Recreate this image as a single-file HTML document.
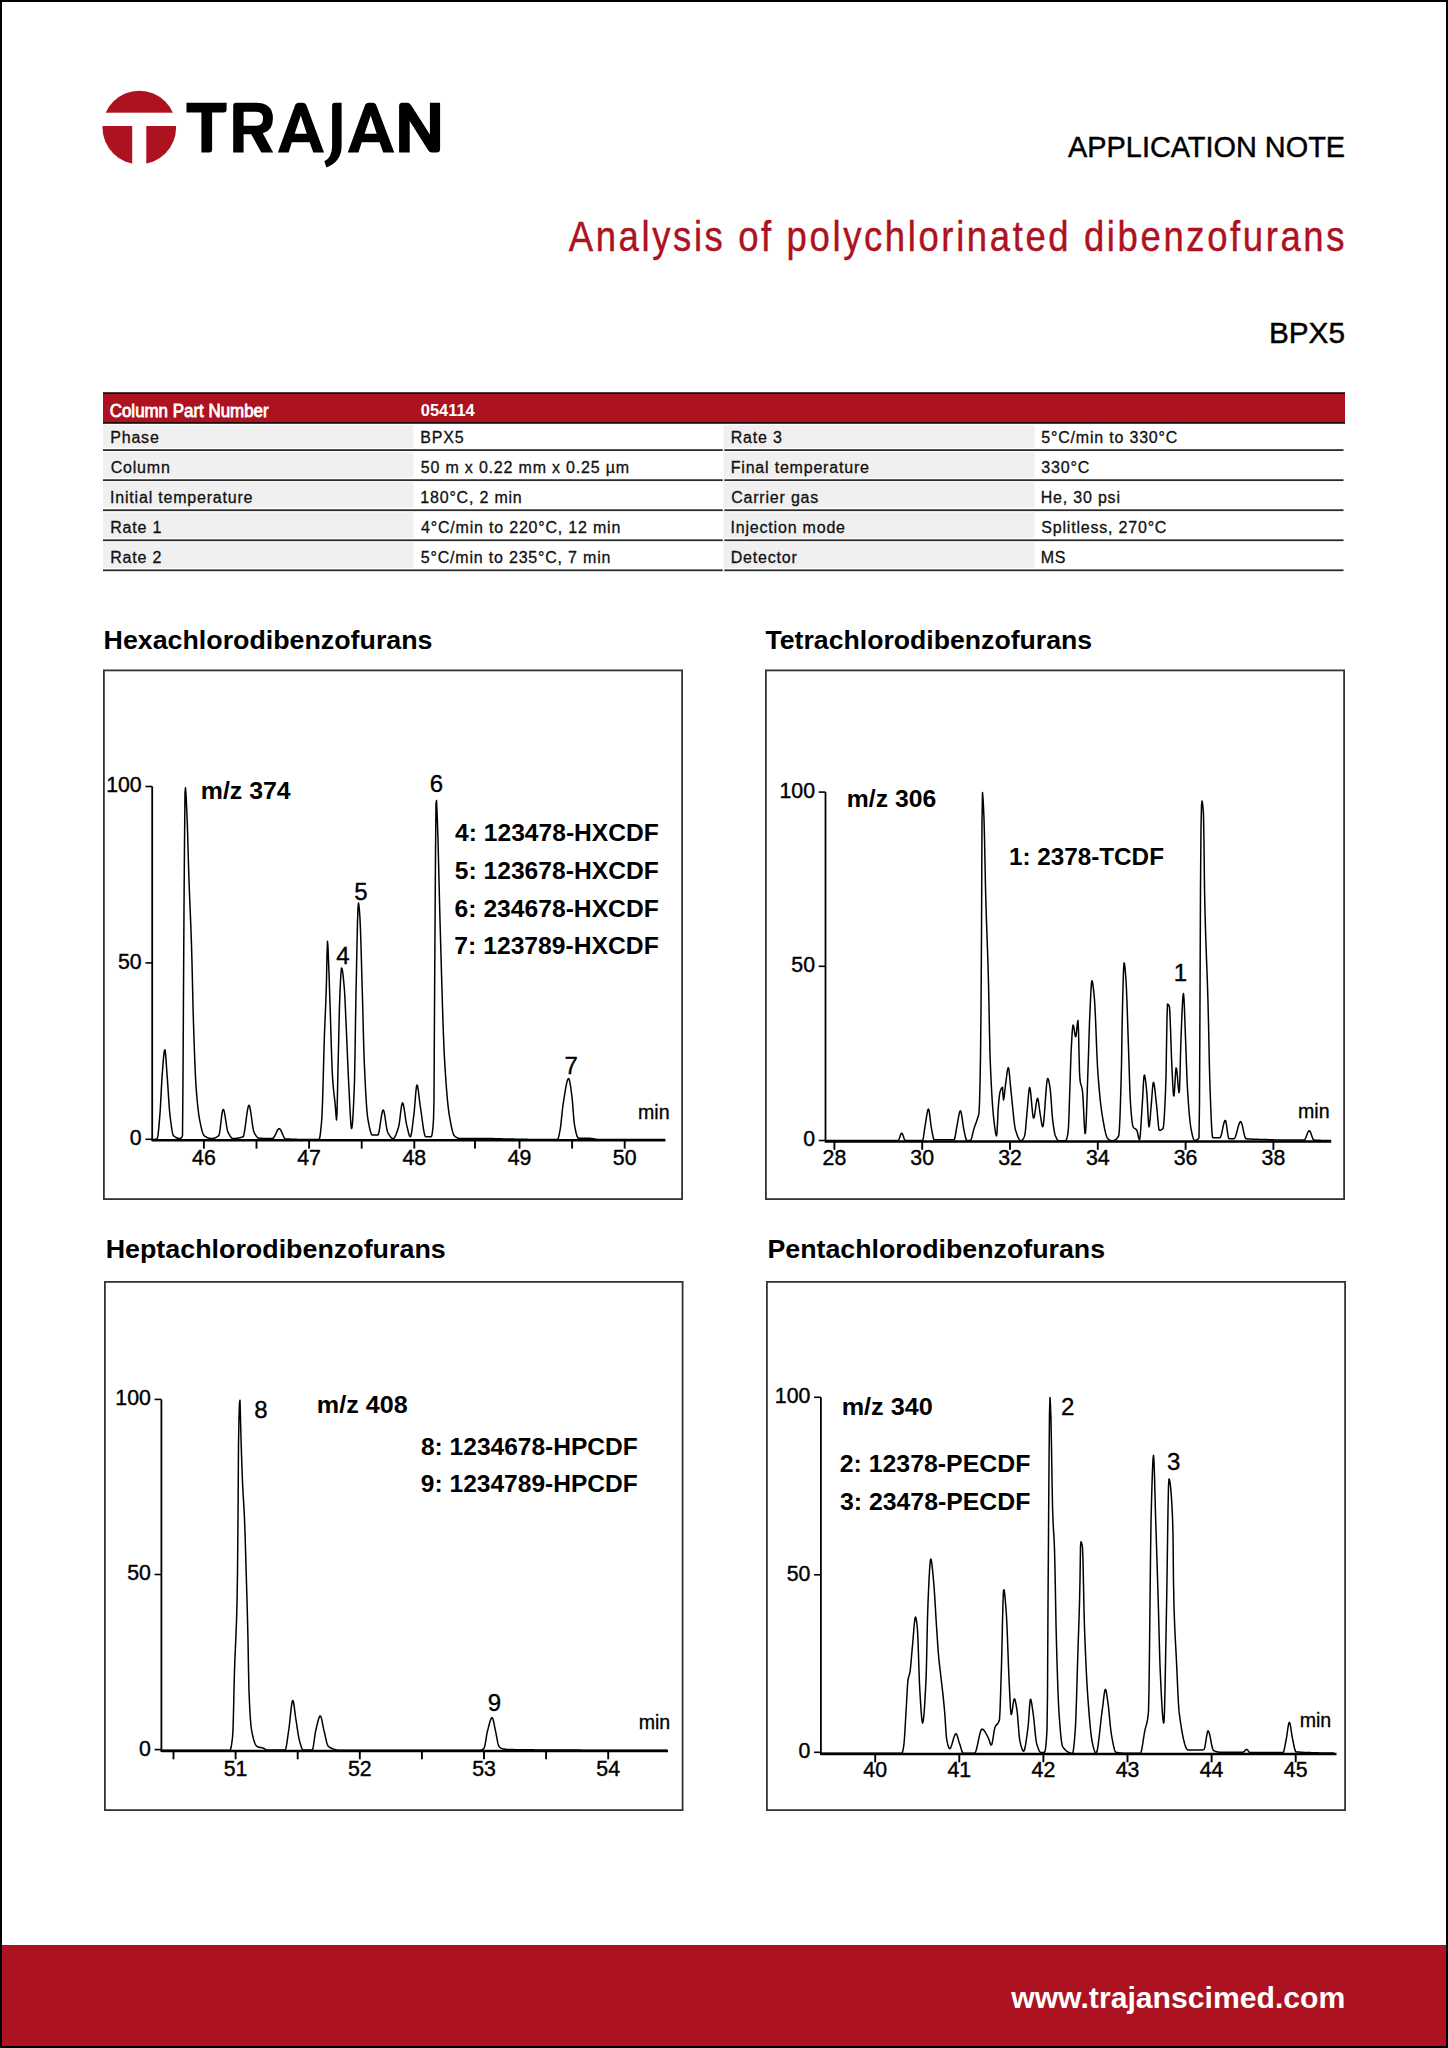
<!DOCTYPE html>
<html><head><meta charset="utf-8"><title>Trajan Application Note - BPX5</title>
<style>html,body{margin:0;padding:0;background:#fff;} svg{display:block;} text{font-family:"Liberation Sans", sans-serif;}</style>
</head><body>
<svg width="1448" height="2048" viewBox="0 0 1448 2048" font-family="'Liberation Sans', sans-serif"><rect x="0" y="0" width="1448" height="2048" fill="#fff"/>
<circle cx="139.3" cy="127.5" r="36.8" fill="#ad1220"/>
<rect x="95" y="112.7" width="90" height="13.3" fill="#fff"/>
<rect x="132.2" y="126" width="14.1" height="45" fill="#fff"/>
<path d="M186.5,102.7 H226.6 V109.5 Q226.6,112.4 223.7,112.4 H212.1 V149.6 Q212.1,152.5 209.2,152.5 H201.4 V112.4 H186.5 Z" fill="#000"/>
<path d="M236.3,102.7 H256 Q272.9,102.7 272.9,118.2 Q272.9,130.8 262.8,133.2 L273.2,152.4 H261.3 L251.2,134.2 H243.6 V152.4 H233.2 V105.9 Q233.2,102.7 236.3,102.7 Z M243.6,111.8 V125.7 H256.3 Q263,125.7 263,118.75 Q263,111.8 256.3,111.8 Z" fill="#000"/>
<path d="M277.9,152.5 L295,105.5 Q296,102.7 299,102.7 H302.5 Q305.5,102.7 306.5,105.5 L324,152.5 H313.3 L309.7,142.2 H291.8 L288.6,152.5 Z M294.7,133.8 H306.8 L300.8,115.5 Z" fill="#000"/>
<path d="M334.8,102.7 H341.6 V146 Q341.6,161.5 326.5,167.5 L324.3,161.3 Q332.1,157.5 332.1,146 V105.4 Q332.1,102.7 334.8,102.7 Z" fill="#000"/>
<path d="M347.8,152.5 L364.90000000000003,105.5 Q365.90000000000003,102.7 368.90000000000003,102.7 H372.40000000000003 Q375.40000000000003,102.7 376.40000000000003,105.5 L394.3,152.5 H383.20000000000005 L379.6,142.2 H361.70000000000005 L358.50000000000006,152.5 Z M364.6,133.8 H376.70000000000005 L370.70000000000005,115.5 Z" fill="#000"/>
<path d="M399.1,152.5 V106 Q399.1,102.7 402.5,102.7 H407 Q409.5,102.7 411,105 L429.9,134.5 V102.7 H440.1 V149 Q440.1,152.5 436.5,152.5 H432 Q429.5,152.5 428,150 L409.7,121 V152.5 Z" fill="#000"/>
<text x="1068.06" y="157.4" font-size="29.71" font-weight="normal" text-anchor="start" fill="#000" textLength="277.03" lengthAdjust="spacingAndGlyphs" stroke="#000" stroke-width="0.45">APPLICATION NOTE</text>
<text transform="translate(568.72,251.0) scale(0.85,1)" x="0" y="0" font-size="42.90" fill="#ad1220" stroke="#ad1220" stroke-width="0.45" letter-spacing="3.090">Analysis of polychlorinated dibenzofurans</text>
<text x="1268.92" y="342.7" font-size="30.29" font-weight="normal" text-anchor="start" fill="#000" textLength="76.14" lengthAdjust="spacingAndGlyphs" stroke="#000" stroke-width="0.45">BPX5</text>
<rect x="103" y="392.2" width="1242" height="31.6" fill="#1a0a0a"/>
<rect x="103" y="394" width="1242" height="28" fill="#ad1220"/>
<text x="109.75" y="416.6" font-size="17.52" font-weight="normal" text-anchor="start" fill="#fff" textLength="158.84" lengthAdjust="spacingAndGlyphs" stroke="#fff" stroke-width="0.8">Column Part Number</text>
<text x="420.74" y="416.3" font-size="17.29" font-weight="bold" text-anchor="start" fill="#fff" textLength="53.97" lengthAdjust="spacingAndGlyphs">054114</text>
<rect x="103" y="425.0" width="310.5" height="22.800000000000022" fill="#f0f0f0"/>
<rect x="723.5" y="425.0" width="311.0" height="22.800000000000022" fill="#f0f0f0"/>
<rect x="103" y="449.20000000000005" width="619.7" height="1.8" fill="#2b2b2b"/>
<rect x="724.3" y="449.20000000000005" width="619.2" height="1.8" fill="#2b2b2b"/>
<text x="110.22" y="443.0" font-size="16" font-weight="normal" text-anchor="start" fill="#111" letter-spacing="0.8" stroke="#111" stroke-width="0.3">Phase</text>
<text x="420.22" y="443.0" font-size="16" font-weight="normal" text-anchor="start" fill="#111" letter-spacing="0.8" stroke="#111" stroke-width="0.3">BPX5</text>
<text x="730.72" y="443.0" font-size="16" font-weight="normal" text-anchor="start" fill="#111" letter-spacing="0.8" stroke="#111" stroke-width="0.3">Rate 3</text>
<text x="1041.36" y="443.0" font-size="16" font-weight="normal" text-anchor="start" fill="#111" letter-spacing="0.8" stroke="#111" stroke-width="0.3">5°C/min to 330°C</text>
<rect x="103" y="452.3" width="310.5" height="25.550000000000022" fill="#f0f0f0"/>
<rect x="723.5" y="452.3" width="311.0" height="25.550000000000022" fill="#f0f0f0"/>
<rect x="103" y="479.25000000000006" width="619.7" height="1.8" fill="#2b2b2b"/>
<rect x="724.3" y="479.25000000000006" width="619.2" height="1.8" fill="#2b2b2b"/>
<text x="110.7" y="473.0" font-size="16" font-weight="normal" text-anchor="start" fill="#111" letter-spacing="0.8" stroke="#111" stroke-width="0.3">Column</text>
<text x="420.86" y="473.0" font-size="16" font-weight="normal" text-anchor="start" fill="#111" letter-spacing="0.8" stroke="#111" stroke-width="0.3">50 m x 0.22 mm x 0.25 µm</text>
<text x="730.72" y="473.0" font-size="16" font-weight="normal" text-anchor="start" fill="#111" letter-spacing="0.8" stroke="#111" stroke-width="0.3">Final temperature</text>
<text x="1041.36" y="473.0" font-size="16" font-weight="normal" text-anchor="start" fill="#111" letter-spacing="0.8" stroke="#111" stroke-width="0.3">330°C</text>
<rect x="103" y="482.35" width="310.5" height="25.550000000000022" fill="#f0f0f0"/>
<rect x="723.5" y="482.35" width="311.0" height="25.550000000000022" fill="#f0f0f0"/>
<rect x="103" y="509.30000000000007" width="619.7" height="1.8" fill="#2b2b2b"/>
<rect x="724.3" y="509.30000000000007" width="619.2" height="1.8" fill="#2b2b2b"/>
<text x="110.06" y="503.0" font-size="16" font-weight="normal" text-anchor="start" fill="#111" letter-spacing="0.8" stroke="#111" stroke-width="0.3">Initial temperature</text>
<text x="420.3" y="503.0" font-size="16" font-weight="normal" text-anchor="start" fill="#111" letter-spacing="0.8" stroke="#111" stroke-width="0.3">180°C, 2 min</text>
<text x="731.2" y="503.0" font-size="16" font-weight="normal" text-anchor="start" fill="#111" letter-spacing="0.8" stroke="#111" stroke-width="0.3">Carrier gas</text>
<text x="1040.72" y="503.0" font-size="16" font-weight="normal" text-anchor="start" fill="#111" letter-spacing="0.8" stroke="#111" stroke-width="0.3">He, 30 psi</text>
<rect x="103" y="512.4000000000001" width="310.5" height="25.54999999999991" fill="#f0f0f0"/>
<rect x="723.5" y="512.4000000000001" width="311.0" height="25.54999999999991" fill="#f0f0f0"/>
<rect x="103" y="539.35" width="619.7" height="1.8" fill="#2b2b2b"/>
<rect x="724.3" y="539.35" width="619.2" height="1.8" fill="#2b2b2b"/>
<text x="110.22" y="533.0" font-size="16" font-weight="normal" text-anchor="start" fill="#111" letter-spacing="0.8" stroke="#111" stroke-width="0.3">Rate 1</text>
<text x="421.1" y="533.0" font-size="16" font-weight="normal" text-anchor="start" fill="#111" letter-spacing="0.8" stroke="#111" stroke-width="0.3">4°C/min to 220°C, 12 min</text>
<text x="730.56" y="533.0" font-size="16" font-weight="normal" text-anchor="start" fill="#111" letter-spacing="0.8" stroke="#111" stroke-width="0.3">Injection mode</text>
<text x="1041.28" y="533.0" font-size="16" font-weight="normal" text-anchor="start" fill="#111" letter-spacing="0.8" stroke="#111" stroke-width="0.3">Splitless, 270°C</text>
<rect x="103" y="542.45" width="310.5" height="25.550000000000022" fill="#f0f0f0"/>
<rect x="723.5" y="542.45" width="311.0" height="25.550000000000022" fill="#f0f0f0"/>
<rect x="103" y="569.4000000000001" width="619.7" height="1.8" fill="#2b2b2b"/>
<rect x="724.3" y="569.4000000000001" width="619.2" height="1.8" fill="#2b2b2b"/>
<text x="110.22" y="563.0" font-size="16" font-weight="normal" text-anchor="start" fill="#111" letter-spacing="0.8" stroke="#111" stroke-width="0.3">Rate 2</text>
<text x="420.86" y="563.0" font-size="16" font-weight="normal" text-anchor="start" fill="#111" letter-spacing="0.8" stroke="#111" stroke-width="0.3">5°C/min to 235°C, 7 min</text>
<text x="730.72" y="563.0" font-size="16" font-weight="normal" text-anchor="start" fill="#111" letter-spacing="0.8" stroke="#111" stroke-width="0.3">Detector</text>
<text x="1040.72" y="563.0" font-size="16" font-weight="normal" text-anchor="start" fill="#111" letter-spacing="0.8" stroke="#111" stroke-width="0.3">MS</text>
<rect x="103.9" y="670.4" width="578.2" height="528.7" fill="none" stroke="#333" stroke-width="1.8"/>
<rect x="765.9" y="670.4" width="578.2" height="528.7" fill="none" stroke="#333" stroke-width="1.8"/>
<rect x="104.9" y="1281.9" width="577.7" height="528.2" fill="none" stroke="#333" stroke-width="1.8"/>
<rect x="766.9" y="1281.9" width="578.2" height="528.2" fill="none" stroke="#333" stroke-width="1.8"/>
<text x="103.56" y="648.9" font-size="25.7" font-weight="bold" text-anchor="start" fill="#000" textLength="328.91" lengthAdjust="spacingAndGlyphs">Hexachlorodibenzofurans</text>
<text x="765.53" y="648.8" font-size="25.7" font-weight="bold" text-anchor="start" fill="#000" textLength="326.55" lengthAdjust="spacingAndGlyphs">Tetrachlorodibenzofurans</text>
<text x="105.65" y="1258.3" font-size="25.7" font-weight="bold" text-anchor="start" fill="#000" textLength="340.09" lengthAdjust="spacingAndGlyphs">Heptachlorodibenzofurans</text>
<text x="767.46" y="1258.3" font-size="25.7" font-weight="bold" text-anchor="start" fill="#000" textLength="337.58" lengthAdjust="spacingAndGlyphs">Pentachlorodibenzofurans</text>
<line x1="152.2" y1="786.5" x2="152.2" y2="1141.3" stroke="#000" stroke-width="1.8"/>
<line x1="145.39999999999998" y1="786.5" x2="152.2" y2="786.5" stroke="#000" stroke-width="1.6"/>
<text x="141.7" y="792.4" font-size="21.3" font-weight="normal" text-anchor="end" fill="#000" stroke="#000" stroke-width="0.4">100</text>
<line x1="145.39999999999998" y1="962.9" x2="152.2" y2="962.9" stroke="#000" stroke-width="1.6"/>
<text x="141.7" y="968.8" font-size="21.3" font-weight="normal" text-anchor="end" fill="#000" stroke="#000" stroke-width="0.4">50</text>
<line x1="145.39999999999998" y1="1139.3" x2="152.2" y2="1139.3" stroke="#000" stroke-width="1.6"/>
<text x="141.7" y="1145.2" font-size="21.3" font-weight="normal" text-anchor="end" fill="#000" stroke="#000" stroke-width="0.4">0</text>
<line x1="152.2" y1="1140.3" x2="665.4" y2="1140.3" stroke="#000" stroke-width="2.4"/>
<line x1="203.9" y1="1140.3" x2="203.9" y2="1148.6" stroke="#000" stroke-width="1.9"/>
<text x="203.9" y="1164.7" font-size="21.3" font-weight="normal" text-anchor="middle" fill="#000" stroke="#000" stroke-width="0.4">46</text>
<line x1="256.5" y1="1140.3" x2="256.5" y2="1148.6" stroke="#000" stroke-width="1.9"/>
<line x1="309.1" y1="1140.3" x2="309.1" y2="1148.6" stroke="#000" stroke-width="1.9"/>
<text x="309.1" y="1164.7" font-size="21.3" font-weight="normal" text-anchor="middle" fill="#000" stroke="#000" stroke-width="0.4">47</text>
<line x1="361.70000000000005" y1="1140.3" x2="361.70000000000005" y2="1148.6" stroke="#000" stroke-width="1.9"/>
<line x1="414.3" y1="1140.3" x2="414.3" y2="1148.6" stroke="#000" stroke-width="1.9"/>
<text x="414.3" y="1164.7" font-size="21.3" font-weight="normal" text-anchor="middle" fill="#000" stroke="#000" stroke-width="0.4">48</text>
<line x1="475.0" y1="1140.3" x2="475.0" y2="1148.6" stroke="#000" stroke-width="1.9"/>
<line x1="519.5" y1="1140.3" x2="519.5" y2="1148.6" stroke="#000" stroke-width="1.9"/>
<text x="519.5" y="1164.7" font-size="21.3" font-weight="normal" text-anchor="middle" fill="#000" stroke="#000" stroke-width="0.4">49</text>
<line x1="572.1" y1="1140.3" x2="572.1" y2="1148.6" stroke="#000" stroke-width="1.9"/>
<line x1="624.7" y1="1140.3" x2="624.7" y2="1148.6" stroke="#000" stroke-width="1.9"/>
<text x="624.7" y="1164.7" font-size="21.3" font-weight="normal" text-anchor="middle" fill="#000" stroke="#000" stroke-width="0.4">50</text>
<polyline fill="none" stroke="#000" stroke-width="1.5" stroke-linejoin="round" points="153.0,1139.6 153.5,1139.6 154.0,1139.5 154.5,1139.5 155.0,1139.4 155.5,1139.2 156.0,1139.1 156.5,1138.9 157.0,1138.6 157.5,1137.9 158.0,1135.2 158.5,1130.8 159.0,1125.4 159.5,1119.4 160.0,1113.3 160.5,1105.5 161.0,1096.0 161.5,1086.2 162.0,1077.4 162.5,1070.7 163.0,1064.3 163.5,1058.1 164.0,1053.1 164.5,1050.1 165.0,1049.9 165.5,1053.3 166.0,1059.4 166.5,1066.8 167.0,1074.1 167.5,1080.8 168.0,1088.3 168.5,1096.2 169.0,1103.9 169.5,1110.5 170.0,1115.4 170.5,1119.5 171.0,1123.5 171.5,1127.2 172.0,1130.4 172.5,1132.9 173.0,1134.8 173.5,1135.7 174.0,1136.1 174.5,1136.5 175.0,1136.9 175.5,1137.2 176.0,1137.5 176.5,1137.8 177.0,1138.0 177.5,1138.2 178.0,1138.3 178.5,1138.4 179.0,1138.5 179.5,1138.5 180.0,1138.5 180.5,1138.4 181.0,1138.1 181.5,1137.6 182.0,1136.8 182.5,1135.7 183.0,1078.3 183.5,990.7 184.0,908.2 184.5,843.1 185.0,792.7 185.5,787.8 186.0,794.6 186.5,804.9 187.0,816.2 187.5,829.8 188.0,846.9 188.5,864.8 189.0,880.5 189.5,893.7 190.0,905.9 190.5,917.9 191.0,930.7 191.5,945.1 192.0,963.0 192.5,984.6 193.0,1006.2 193.5,1023.7 194.0,1038.9 194.5,1053.2 195.0,1066.1 195.5,1077.2 196.0,1085.9 196.5,1092.6 197.0,1098.5 197.5,1103.8 198.0,1108.5 198.5,1112.6 199.0,1116.1 199.5,1119.1 200.0,1121.7 200.5,1124.1 201.0,1126.5 201.5,1128.6 202.0,1130.6 202.5,1132.3 203.0,1133.7 203.5,1134.8 204.0,1135.5 204.5,1135.9 205.0,1136.3 205.5,1136.6 206.0,1136.9 206.5,1137.2 207.0,1137.5 207.5,1137.7 208.0,1137.9 208.5,1138.1 209.0,1138.2 209.5,1138.3 210.0,1138.4 210.5,1138.5 211.0,1138.5 211.5,1138.5 212.0,1138.5 212.5,1138.5 213.0,1138.4 213.5,1138.3 214.0,1138.2 214.5,1138.0 215.0,1137.9 215.5,1137.7 216.0,1137.4 216.5,1137.2 217.0,1136.9 217.5,1136.6 218.0,1136.2 218.5,1135.9 219.0,1135.2 219.5,1133.1 220.0,1129.8 220.5,1125.9 221.0,1121.6 221.5,1117.4 222.0,1113.7 222.5,1110.9 223.0,1109.4 223.5,1109.5 224.0,1110.7 224.5,1112.9 225.0,1115.7 225.5,1118.9 226.0,1122.2 226.5,1125.5 227.0,1128.4 227.5,1130.7 228.0,1132.2 228.5,1133.2 229.0,1134.1 229.5,1135.0 230.0,1135.8 230.5,1136.6 231.0,1137.2 231.5,1137.7 232.0,1138.2 232.5,1138.4 233.0,1138.5 233.5,1138.5 234.0,1138.5 234.5,1138.5 235.0,1138.5 235.5,1138.4 236.0,1138.4 236.5,1138.3 237.0,1138.3 237.5,1138.2 238.0,1138.1 238.5,1138.0 239.0,1137.9 239.5,1137.8 240.0,1137.7 240.5,1137.6 241.0,1137.4 241.5,1137.3 242.0,1137.1 242.5,1137.0 243.0,1136.8 243.5,1136.0 244.0,1134.2 244.5,1131.5 245.0,1128.3 245.5,1124.6 246.0,1120.8 246.5,1116.9 247.0,1113.3 247.5,1110.2 248.0,1107.6 248.5,1106.0 249.0,1105.3 249.5,1106.0 250.0,1107.8 250.5,1110.5 251.0,1113.9 251.5,1117.5 252.0,1121.3 252.5,1124.9 253.0,1128.1 253.5,1130.6 254.0,1132.2 254.5,1133.1 255.0,1134.1 255.5,1134.9 256.0,1135.7 256.5,1136.4 257.0,1137.0 257.5,1137.5 258.0,1137.8 258.5,1138.1 259.0,1138.2 259.5,1138.2 260.0,1138.2 260.5,1138.3 261.0,1138.3 261.5,1138.3 262.0,1138.3 262.5,1138.4 263.0,1138.4 263.5,1138.4 264.0,1138.4 264.5,1138.4 265.0,1138.4 265.5,1138.5 266.0,1138.5 266.5,1138.5 267.0,1138.5 267.5,1138.5 268.0,1138.5 268.5,1138.5 269.0,1138.5 269.5,1138.5 270.0,1138.5 270.5,1138.5 271.0,1138.5 271.5,1138.5 272.0,1138.5 272.5,1138.5 273.0,1138.4 273.5,1137.9 274.0,1137.3 274.5,1136.4 275.0,1135.4 275.5,1134.4 276.0,1133.3 276.5,1132.2 277.0,1131.2 277.5,1130.2 278.0,1129.5 278.5,1129.0 279.0,1128.7 279.5,1128.7 280.0,1129.1 280.5,1129.8 281.0,1130.7 281.5,1131.7 282.0,1132.9 282.5,1134.1 283.0,1135.3 283.5,1136.4 284.0,1137.4 284.5,1138.2 285.0,1138.7 285.5,1138.9 286.0,1138.9 286.5,1138.9 287.0,1139.0 287.5,1139.0 288.0,1139.0 288.5,1139.0 289.0,1139.1 289.5,1139.1 290.0,1139.1 290.5,1139.1 291.0,1139.2 291.5,1139.2 292.0,1139.2 292.5,1139.2 293.0,1139.2 293.5,1139.2 294.0,1139.3 294.5,1139.3 295.0,1139.3 295.5,1139.3 296.0,1139.3 296.5,1139.3 297.0,1139.4 297.5,1139.4 298.0,1139.4 298.5,1139.4 299.0,1139.4 299.5,1139.4 300.0,1139.4 300.5,1139.4 301.0,1139.4 301.5,1139.5 302.0,1139.5 302.5,1139.5 303.0,1139.5 303.5,1139.5 304.0,1139.5 304.5,1139.5 305.0,1139.5 305.5,1139.5 306.0,1139.5 306.5,1139.5 307.0,1139.5 307.5,1139.5 308.0,1139.6 308.5,1139.6 309.0,1139.6 309.5,1139.6 310.0,1139.6 310.5,1139.6 311.0,1139.6 311.5,1139.6 312.0,1139.6 312.5,1139.6 313.0,1139.6 313.5,1139.6 314.0,1139.6 314.5,1139.6 315.0,1139.6 315.5,1139.6 316.0,1139.6 316.5,1139.6 317.0,1139.6 317.5,1139.6 318.0,1139.6 318.5,1139.6 319.0,1139.6 319.5,1138.7 320.0,1136.3 320.5,1132.6 321.0,1127.9 321.5,1122.5 322.0,1115.4 322.5,1102.7 323.0,1086.0 323.5,1067.4 324.0,1049.1 324.5,1033.3 325.0,1020.7 325.5,1009.2 326.0,996.8 326.5,980.3 327.0,955.1 327.5,941.2 328.0,947.6 328.5,960.3 329.0,973.3 329.5,988.6 330.0,1003.8 330.5,1019.6 331.0,1036.3 331.5,1052.3 332.0,1066.3 332.5,1076.9 333.0,1083.9 333.5,1089.4 334.0,1094.0 334.5,1098.2 335.0,1102.7 335.5,1108.1 336.0,1115.4 336.5,1120.0 337.0,1113.2 337.5,1092.0 338.0,1069.3 338.5,1048.1 339.0,1025.3 339.5,1005.5 340.0,992.3 340.5,981.2 341.0,972.4 341.5,968.1 342.0,968.6 342.5,971.0 343.0,974.7 343.5,979.4 344.0,984.8 344.5,990.7 345.0,999.6 345.5,1010.7 346.0,1022.0 346.5,1033.0 347.0,1044.7 347.5,1056.8 348.0,1068.5 348.5,1079.5 349.0,1089.2 349.5,1099.2 350.0,1109.4 350.5,1118.5 351.0,1125.3 351.5,1128.6 352.0,1127.5 352.5,1122.9 353.0,1115.6 353.5,1105.9 354.0,1094.7 354.5,1080.9 355.0,1054.9 355.5,1022.4 356.0,992.9 356.5,969.1 357.0,944.3 357.5,922.3 358.0,907.3 358.5,903.1 359.0,906.0 359.5,911.5 360.0,918.7 360.5,930.5 361.0,945.9 361.5,963.4 362.0,981.4 362.5,998.6 363.0,1017.8 363.5,1038.0 364.0,1055.2 364.5,1067.4 365.0,1078.2 365.5,1088.2 366.0,1097.2 366.5,1105.0 367.0,1111.4 367.5,1116.3 368.0,1119.6 368.5,1122.5 369.0,1125.2 369.5,1127.6 370.0,1129.8 370.5,1131.6 371.0,1133.1 371.5,1134.2 372.0,1134.8 372.5,1135.0 373.0,1135.0 373.5,1135.0 374.0,1135.0 374.5,1135.0 375.0,1135.0 375.5,1135.0 376.0,1135.0 376.5,1135.0 377.0,1135.0 377.5,1135.0 378.0,1134.9 378.5,1133.9 379.0,1131.8 379.5,1129.1 380.0,1125.9 380.5,1122.5 381.0,1119.0 381.5,1115.8 382.0,1113.1 382.5,1111.1 383.0,1110.0 383.5,1110.2 384.0,1111.6 384.5,1113.9 385.0,1116.9 385.5,1120.3 386.0,1123.8 386.5,1127.0 387.0,1129.8 387.5,1131.7 388.0,1132.8 388.5,1133.7 389.0,1134.6 389.5,1135.4 390.0,1136.1 390.5,1136.8 391.0,1137.4 391.5,1137.8 392.0,1138.2 392.5,1138.4 393.0,1138.5 393.5,1138.5 394.0,1138.1 394.5,1137.5 395.0,1136.7 395.5,1135.7 396.0,1134.6 396.5,1133.3 397.0,1131.9 397.5,1130.4 398.0,1128.8 398.5,1127.2 399.0,1125.1 399.5,1121.9 400.0,1118.0 400.5,1113.7 401.0,1109.6 401.5,1106.2 402.0,1103.8 402.5,1102.9 403.0,1103.5 403.5,1105.3 404.0,1108.0 404.5,1111.2 405.0,1114.7 405.5,1118.3 406.0,1121.5 406.5,1124.3 407.0,1126.4 407.5,1128.5 408.0,1130.7 408.5,1132.7 409.0,1134.5 409.5,1135.9 410.0,1136.6 410.5,1136.7 411.0,1135.4 411.5,1133.0 412.0,1129.8 412.5,1126.0 413.0,1121.8 413.5,1117.7 414.0,1113.7 414.5,1108.7 415.0,1102.5 415.5,1096.2 416.0,1090.5 416.5,1086.4 417.0,1084.9 417.5,1085.8 418.0,1088.4 418.5,1092.0 419.0,1096.3 419.5,1100.5 420.0,1104.4 420.5,1107.6 421.0,1111.0 421.5,1114.7 422.0,1118.5 422.5,1122.2 423.0,1125.8 423.5,1129.1 424.0,1131.9 424.5,1134.2 425.0,1135.9 425.5,1136.7 426.0,1136.8 426.5,1136.8 427.0,1136.8 427.5,1136.8 428.0,1136.8 428.5,1136.8 429.0,1136.8 429.5,1136.8 430.0,1136.8 430.5,1136.8 431.0,1136.8 431.5,1136.4 432.0,1134.7 432.5,1131.5 433.0,1126.5 433.5,1119.7 434.0,1099.4 434.5,1008.7 435.0,931.0 435.5,854.3 436.0,803.6 436.5,800.4 437.0,811.2 437.5,824.4 438.0,840.3 438.5,859.7 439.0,880.8 439.5,901.8 440.0,921.1 440.5,938.3 441.0,955.8 441.5,973.4 442.0,990.5 442.5,1007.0 443.0,1022.4 443.5,1036.4 444.0,1048.6 444.5,1058.8 445.0,1067.1 445.5,1074.9 446.0,1082.2 446.5,1088.9 447.0,1095.0 447.5,1100.5 448.0,1105.4 448.5,1109.7 449.0,1113.3 449.5,1116.3 450.0,1119.2 450.5,1122.0 451.0,1124.6 451.5,1127.0 452.0,1129.2 452.5,1131.2 453.0,1132.9 453.5,1134.3 454.0,1135.3 454.5,1136.0 455.0,1136.4 455.5,1136.8 456.0,1137.1 456.5,1137.4 457.0,1137.7 457.5,1138.0 458.0,1138.2 458.5,1138.3 459.0,1138.4 459.5,1138.5 460.0,1138.5 460.5,1138.5 461.0,1138.5 461.5,1138.5 462.0,1138.5 462.5,1138.5 463.0,1138.5 463.5,1138.5 464.0,1138.5 464.5,1138.5 465.0,1138.5 465.5,1138.5 466.0,1138.5 466.5,1138.5 467.0,1138.5 467.5,1138.5 468.0,1138.5 468.5,1138.5 469.0,1138.5 469.5,1138.5 470.0,1138.5 470.5,1138.5 471.0,1138.5 471.5,1138.5 472.0,1138.5 472.5,1138.5 473.0,1138.5 473.5,1138.5 474.0,1138.5 474.5,1138.5 475.0,1138.5 475.5,1138.5 476.0,1138.5 476.5,1138.5 477.0,1138.5 477.5,1138.5 478.0,1138.5 478.5,1138.5 479.0,1138.5 479.5,1138.5 480.0,1138.5 480.5,1138.5 481.0,1138.5 481.5,1138.5 482.0,1138.5 482.5,1138.5 483.0,1138.5 483.5,1138.5 484.0,1138.5 484.5,1138.5 485.0,1138.5 485.5,1138.5 486.0,1138.5 486.5,1138.6 487.0,1138.6 487.5,1138.6 488.0,1138.6 488.5,1138.6 489.0,1138.6 489.5,1138.6 490.0,1138.6 490.5,1138.6 491.0,1138.6 491.5,1138.6 492.0,1138.6 492.5,1138.6 493.0,1138.6 493.5,1138.6 494.0,1138.7 494.5,1138.7 495.0,1138.7 495.5,1138.7 496.0,1138.7 496.5,1138.7 497.0,1138.7 497.5,1138.7 498.0,1138.7 498.5,1138.8 499.0,1138.8 499.5,1138.8 500.0,1138.8 500.5,1138.8 501.0,1138.8 501.5,1138.8 502.0,1138.8 502.5,1138.9 503.0,1138.9 503.5,1138.9 504.0,1138.9 504.5,1138.9 505.0,1138.9 505.5,1138.9 506.0,1138.9 506.5,1139.0 507.0,1139.0 507.5,1139.0 508.0,1139.0 508.5,1139.0 509.0,1139.0 509.5,1139.0 510.0,1139.0 510.5,1139.1 511.0,1139.1 511.5,1139.1 512.0,1139.1 512.5,1139.1 513.0,1139.1 513.5,1139.1 514.0,1139.1 514.5,1139.2 515.0,1139.2 515.5,1139.2 516.0,1139.2 516.5,1139.2 517.0,1139.2 517.5,1139.2 518.0,1139.2 518.5,1139.2 519.0,1139.2 519.5,1139.2 520.0,1139.2 520.5,1139.3 521.0,1139.3 521.5,1139.3 522.0,1139.3 522.5,1139.3 523.0,1139.3 523.5,1139.3 524.0,1139.3 524.5,1139.3 525.0,1139.3 525.5,1139.3 526.0,1139.3 526.5,1139.3 527.0,1139.3 527.5,1139.3 528.0,1139.4 528.5,1139.4 529.0,1139.4 529.5,1139.4 530.0,1139.4 530.5,1139.4 531.0,1139.4 531.5,1139.4 532.0,1139.4 532.5,1139.4 533.0,1139.4 533.5,1139.4 534.0,1139.4 534.5,1139.4 535.0,1139.4 535.5,1139.4 536.0,1139.5 536.5,1139.5 537.0,1139.5 537.5,1139.5 538.0,1139.5 538.5,1139.5 539.0,1139.5 539.5,1139.5 540.0,1139.5 540.5,1139.5 541.0,1139.5 541.5,1139.5 542.0,1139.5 542.5,1139.5 543.0,1139.5 543.5,1139.5 544.0,1139.5 544.5,1139.5 545.0,1139.5 545.5,1139.5 546.0,1139.6 546.5,1139.6 547.0,1139.6 547.5,1139.6 548.0,1139.6 548.5,1139.6 549.0,1139.6 549.5,1139.6 550.0,1139.6 550.5,1139.6 551.0,1139.6 551.5,1139.6 552.0,1139.6 552.5,1139.6 553.0,1139.6 553.5,1139.6 554.0,1139.6 554.5,1139.6 555.0,1139.6 555.5,1139.6 556.0,1139.6 556.5,1139.6 557.0,1139.6 557.5,1139.6 558.0,1138.9 558.5,1137.4 559.0,1135.3 559.5,1132.9 560.0,1130.4 560.5,1127.3 561.0,1123.3 561.5,1118.6 562.0,1113.7 562.5,1109.0 563.0,1104.9 563.5,1101.7 564.0,1098.5 564.5,1095.3 565.0,1092.2 565.5,1089.2 566.0,1086.4 566.5,1083.9 567.0,1081.8 567.5,1080.1 568.0,1079.0 568.5,1078.5 569.0,1078.9 569.5,1080.4 570.0,1082.8 570.5,1085.9 571.0,1089.5 571.5,1093.2 572.0,1097.0 572.5,1102.1 573.0,1108.6 573.5,1115.3 574.0,1121.1 574.5,1125.1 575.0,1127.7 575.5,1130.2 576.0,1132.5 576.5,1134.4 577.0,1136.1 577.5,1137.3 578.0,1138.0 578.5,1138.2 579.0,1138.2 579.5,1138.2 580.0,1138.2 580.5,1138.2 581.0,1138.2 581.5,1138.2 582.0,1138.2 582.5,1138.2 583.0,1138.2 583.5,1138.2 584.0,1138.2 584.5,1138.2 585.0,1138.2 585.5,1138.2 586.0,1138.2 586.5,1138.2 587.0,1138.2 587.5,1138.2 588.0,1138.2 588.5,1138.2 589.0,1138.2 589.5,1138.3 590.0,1138.3 590.5,1138.4 591.0,1138.4 591.5,1138.5 592.0,1138.6 592.5,1138.7 593.0,1138.8 593.5,1138.8 594.0,1138.9 594.5,1139.0 595.0,1139.1 595.5,1139.2 596.0,1139.3 596.5,1139.3 597.0,1139.4 597.5,1139.5 598.0,1139.5 598.5,1139.5 599.0,1139.6 599.5,1139.6 600.0,1139.6 600.5,1139.6 601.0,1139.6 601.5,1139.6 602.0,1139.6 602.5,1139.6 603.0,1139.6 603.5,1139.6 604.0,1139.6 604.5,1139.6 605.0,1139.6 605.5,1139.6 606.0,1139.6 606.5,1139.6 607.0,1139.6 607.5,1139.6 608.0,1139.6 608.5,1139.6 609.0,1139.6 609.5,1139.6 610.0,1139.6 610.5,1139.6 611.0,1139.6 611.5,1139.6 612.0,1139.6 612.5,1139.6 613.0,1139.6 613.5,1139.6 614.0,1139.6 614.5,1139.6 615.0,1139.6 615.5,1139.6 616.0,1139.6 616.5,1139.6 617.0,1139.6 617.5,1139.6 618.0,1139.6 618.5,1139.6 619.0,1139.6 619.5,1139.6 620.0,1139.6 620.5,1139.6 621.0,1139.6 621.5,1139.6 622.0,1139.6 622.5,1139.6 623.0,1139.6 623.5,1139.6 624.0,1139.6 624.5,1139.6 625.0,1139.6 625.5,1139.6 626.0,1139.6 626.5,1139.6 627.0,1139.6 627.5,1139.6 628.0,1139.6 628.5,1139.6 629.0,1139.6 629.5,1139.6 630.0,1139.6 630.5,1139.6 631.0,1139.6 631.5,1139.6 632.0,1139.6 632.5,1139.6 633.0,1139.6 633.5,1139.6 634.0,1139.6 634.5,1139.6 635.0,1139.6 635.5,1139.6 636.0,1139.6 636.5,1139.6 637.0,1139.6 637.5,1139.6 638.0,1139.6 638.5,1139.6 639.0,1139.6 639.5,1139.6 640.0,1139.6 640.5,1139.6 641.0,1139.6 641.5,1139.6 642.0,1139.6 642.5,1139.6 643.0,1139.6 643.5,1139.6 644.0,1139.6 644.5,1139.6 645.0,1139.6 645.5,1139.6 646.0,1139.6 646.5,1139.6 647.0,1139.6 647.5,1139.6 648.0,1139.6 648.5,1139.6 649.0,1139.6 649.5,1139.6 650.0,1139.6 650.5,1139.6 651.0,1139.6 651.5,1139.6 652.0,1139.6 652.5,1139.6 653.0,1139.6 653.5,1139.6 654.0,1139.6 654.5,1139.6 655.0,1139.6 655.5,1139.6 656.0,1139.6 656.5,1139.6 657.0,1139.6 657.5,1139.6 658.0,1139.6 658.5,1139.6 659.0,1139.6 659.5,1139.6 660.0,1139.6 660.5,1139.6 661.0,1139.6 661.5,1139.6 662.0,1139.6 662.5,1139.6 663.0,1139.6 663.5,1139.6 664.0,1139.6 664.5,1139.6 665.0,1139.6"/>
<text x="200.78" y="799.4" font-size="23.8" font-weight="bold" text-anchor="start" fill="#000" textLength="89.92" lengthAdjust="spacingAndGlyphs">m/z 374</text>
<text x="455.13" y="841.4" font-size="24.3" font-weight="bold" text-anchor="start" fill="#000" textLength="203.67" lengthAdjust="spacingAndGlyphs">4: 123478-HXCDF</text>
<text x="454.76" y="879.0" font-size="24.3" font-weight="bold" text-anchor="start" fill="#000" textLength="204.04" lengthAdjust="spacingAndGlyphs">5: 123678-HXCDF</text>
<text x="454.64" y="916.6" font-size="24.3" font-weight="bold" text-anchor="start" fill="#000" textLength="204.16" lengthAdjust="spacingAndGlyphs">6: 234678-HXCDF</text>
<text x="454.39" y="954.2" font-size="24.3" font-weight="bold" text-anchor="start" fill="#000" textLength="204.41" lengthAdjust="spacingAndGlyphs">7: 123789-HXCDF</text>
<text x="638" y="1119.1" font-size="19.6" font-weight="normal" text-anchor="start" fill="#000" stroke="#000" stroke-width="0.3">min</text>
<text x="343" y="964" font-size="24" font-weight="normal" text-anchor="middle" fill="#000" stroke="#000" stroke-width="0.35">4</text>
<text x="361" y="899.6" font-size="24" font-weight="normal" text-anchor="middle" fill="#000" stroke="#000" stroke-width="0.35">5</text>
<text x="436.5" y="792.3" font-size="24" font-weight="normal" text-anchor="middle" fill="#000" stroke="#000" stroke-width="0.35">6</text>
<text x="571.2" y="1073.6" font-size="24" font-weight="normal" text-anchor="middle" fill="#000" stroke="#000" stroke-width="0.35">7</text>
<line x1="825.5" y1="792.1" x2="825.5" y2="1142.5" stroke="#000" stroke-width="1.8"/>
<line x1="818.7" y1="792.1" x2="825.5" y2="792.1" stroke="#000" stroke-width="1.6"/>
<text x="815.0" y="798.0" font-size="21.3" font-weight="normal" text-anchor="end" fill="#000" stroke="#000" stroke-width="0.4">100</text>
<line x1="818.7" y1="966.3" x2="825.5" y2="966.3" stroke="#000" stroke-width="1.6"/>
<text x="815.0" y="972.2" font-size="21.3" font-weight="normal" text-anchor="end" fill="#000" stroke="#000" stroke-width="0.4">50</text>
<line x1="818.7" y1="1140.5" x2="825.5" y2="1140.5" stroke="#000" stroke-width="1.6"/>
<text x="815.0" y="1146.4" font-size="21.3" font-weight="normal" text-anchor="end" fill="#000" stroke="#000" stroke-width="0.4">0</text>
<line x1="825.5" y1="1141.5" x2="1331.2" y2="1141.5" stroke="#000" stroke-width="2.4"/>
<line x1="834.4" y1="1141.5" x2="834.4" y2="1149.8" stroke="#000" stroke-width="1.9"/>
<text x="834.4" y="1164.8" font-size="21.3" font-weight="normal" text-anchor="middle" fill="#000" stroke="#000" stroke-width="0.4">28</text>
<line x1="922.1999999999999" y1="1141.5" x2="922.1999999999999" y2="1149.8" stroke="#000" stroke-width="1.9"/>
<text x="922.2" y="1164.8" font-size="21.3" font-weight="normal" text-anchor="middle" fill="#000" stroke="#000" stroke-width="0.4">30</text>
<line x1="1010.0" y1="1141.5" x2="1010.0" y2="1149.8" stroke="#000" stroke-width="1.9"/>
<text x="1010.0" y="1164.8" font-size="21.3" font-weight="normal" text-anchor="middle" fill="#000" stroke="#000" stroke-width="0.4">32</text>
<line x1="1097.8" y1="1141.5" x2="1097.8" y2="1149.8" stroke="#000" stroke-width="1.9"/>
<text x="1097.8" y="1164.8" font-size="21.3" font-weight="normal" text-anchor="middle" fill="#000" stroke="#000" stroke-width="0.4">34</text>
<line x1="1185.6" y1="1141.5" x2="1185.6" y2="1149.8" stroke="#000" stroke-width="1.9"/>
<text x="1185.6" y="1164.8" font-size="21.3" font-weight="normal" text-anchor="middle" fill="#000" stroke="#000" stroke-width="0.4">36</text>
<line x1="1273.4" y1="1141.5" x2="1273.4" y2="1149.8" stroke="#000" stroke-width="1.9"/>
<text x="1273.4" y="1164.8" font-size="21.3" font-weight="normal" text-anchor="middle" fill="#000" stroke="#000" stroke-width="0.4">38</text>
<polyline fill="none" stroke="#000" stroke-width="1.5" stroke-linejoin="round" points="826.0,1140.5 826.5,1140.5 827.0,1140.5 827.5,1140.5 828.0,1140.5 828.5,1140.5 829.0,1140.5 829.5,1140.5 830.0,1140.5 830.5,1140.5 831.0,1140.5 831.5,1140.5 832.0,1140.5 832.5,1140.5 833.0,1140.5 833.5,1140.5 834.0,1140.5 834.5,1140.5 835.0,1140.5 835.5,1140.5 836.0,1140.5 836.5,1140.5 837.0,1140.5 837.5,1140.5 838.0,1140.5 838.5,1140.5 839.0,1140.5 839.5,1140.5 840.0,1140.5 840.5,1140.5 841.0,1140.5 841.5,1140.5 842.0,1140.5 842.5,1140.5 843.0,1140.5 843.5,1140.5 844.0,1140.5 844.5,1140.5 845.0,1140.5 845.5,1140.5 846.0,1140.5 846.5,1140.5 847.0,1140.5 847.5,1140.5 848.0,1140.5 848.5,1140.5 849.0,1140.5 849.5,1140.5 850.0,1140.5 850.5,1140.5 851.0,1140.5 851.5,1140.5 852.0,1140.5 852.5,1140.5 853.0,1140.5 853.5,1140.5 854.0,1140.5 854.5,1140.5 855.0,1140.5 855.5,1140.5 856.0,1140.5 856.5,1140.5 857.0,1140.5 857.5,1140.5 858.0,1140.5 858.5,1140.5 859.0,1140.5 859.5,1140.5 860.0,1140.5 860.5,1140.5 861.0,1140.5 861.5,1140.5 862.0,1140.5 862.5,1140.5 863.0,1140.5 863.5,1140.5 864.0,1140.5 864.5,1140.5 865.0,1140.5 865.5,1140.5 866.0,1140.5 866.5,1140.5 867.0,1140.5 867.5,1140.5 868.0,1140.5 868.5,1140.5 869.0,1140.5 869.5,1140.5 870.0,1140.5 870.5,1140.5 871.0,1140.5 871.5,1140.5 872.0,1140.5 872.5,1140.5 873.0,1140.5 873.5,1140.5 874.0,1140.5 874.5,1140.5 875.0,1140.5 875.5,1140.5 876.0,1140.5 876.5,1140.5 877.0,1140.5 877.5,1140.5 878.0,1140.5 878.5,1140.5 879.0,1140.5 879.5,1140.5 880.0,1140.5 880.5,1140.5 881.0,1140.5 881.5,1140.5 882.0,1140.5 882.5,1140.5 883.0,1140.5 883.5,1140.5 884.0,1140.5 884.5,1140.5 885.0,1140.5 885.5,1140.5 886.0,1140.5 886.5,1140.5 887.0,1140.5 887.5,1140.5 888.0,1140.5 888.5,1140.5 889.0,1140.5 889.5,1140.5 890.0,1140.5 890.5,1140.5 891.0,1140.5 891.5,1140.5 892.0,1140.5 892.5,1140.5 893.0,1140.5 893.5,1140.5 894.0,1140.5 894.5,1140.5 895.0,1140.5 895.5,1140.5 896.0,1140.5 896.5,1140.5 897.0,1140.5 897.5,1140.5 898.0,1140.5 898.5,1140.2 899.0,1139.3 899.5,1138.0 900.0,1136.5 900.5,1135.0 901.0,1133.9 901.5,1133.2 902.0,1133.3 902.5,1134.1 903.0,1135.3 903.5,1136.8 904.0,1138.3 904.5,1139.5 905.0,1140.3 905.5,1140.5 906.0,1140.5 906.5,1140.5 907.0,1140.5 907.5,1140.5 908.0,1140.5 908.5,1140.5 909.0,1140.5 909.5,1140.5 910.0,1140.5 910.5,1140.5 911.0,1140.5 911.5,1140.5 912.0,1140.5 912.5,1140.5 913.0,1140.5 913.5,1140.5 914.0,1140.5 914.5,1140.5 915.0,1140.5 915.5,1140.5 916.0,1140.5 916.5,1140.5 917.0,1140.5 917.5,1140.5 918.0,1140.5 918.5,1140.5 919.0,1140.5 919.5,1140.5 920.0,1140.5 920.5,1140.5 921.0,1140.5 921.5,1140.5 922.0,1140.5 922.5,1140.5 923.0,1139.5 923.5,1136.9 924.0,1133.5 924.5,1129.7 925.0,1126.3 925.5,1123.4 926.0,1120.2 926.5,1116.9 927.0,1113.8 927.5,1111.2 928.0,1109.5 928.5,1109.1 929.0,1110.5 929.5,1113.4 930.0,1117.3 930.5,1121.5 931.0,1125.5 931.5,1128.6 932.0,1131.3 932.5,1134.0 933.0,1136.6 933.5,1138.6 934.0,1139.6 934.5,1139.8 935.0,1139.8 935.5,1139.8 936.0,1139.8 936.5,1139.8 937.0,1139.8 937.5,1139.8 938.0,1139.8 938.5,1139.8 939.0,1139.8 939.5,1139.8 940.0,1139.8 940.5,1139.8 941.0,1139.8 941.5,1139.8 942.0,1139.8 942.5,1139.8 943.0,1139.8 943.5,1139.8 944.0,1139.8 944.5,1139.8 945.0,1139.8 945.5,1139.8 946.0,1139.8 946.5,1139.8 947.0,1139.8 947.5,1139.8 948.0,1139.8 948.5,1139.8 949.0,1139.8 949.5,1139.8 950.0,1139.8 950.5,1139.8 951.0,1139.8 951.5,1139.8 952.0,1139.8 952.5,1139.8 953.0,1139.8 953.5,1139.8 954.0,1139.8 954.5,1139.2 955.0,1137.3 955.5,1134.6 956.0,1131.4 956.5,1128.4 957.0,1125.9 957.5,1123.2 958.0,1120.2 958.5,1117.3 959.0,1114.7 959.5,1112.5 960.0,1111.2 960.5,1110.8 961.0,1111.9 961.5,1114.2 962.0,1117.3 962.5,1120.8 963.0,1124.4 963.5,1127.7 964.0,1130.3 964.5,1132.6 965.0,1135.1 965.5,1137.3 966.0,1139.1 966.5,1140.3 967.0,1140.5 967.5,1140.5 968.0,1140.5 968.5,1140.5 969.0,1140.5 969.5,1140.5 970.0,1140.5 970.5,1140.4 971.0,1139.8 971.5,1138.5 972.0,1136.7 972.5,1134.6 973.0,1132.4 973.5,1130.4 974.0,1128.6 974.5,1127.1 975.0,1125.7 975.5,1124.3 976.0,1122.9 976.5,1121.5 977.0,1120.0 977.5,1118.5 978.0,1117.0 978.5,1115.4 979.0,1112.9 979.5,1103.1 980.0,1083.7 980.5,1057.3 981.0,1012.3 981.5,935.1 982.0,821.2 982.5,792.6 983.0,798.1 983.5,807.4 984.0,818.7 984.5,837.8 985.0,863.0 985.5,887.6 986.0,906.1 986.5,921.7 987.0,935.8 987.5,949.9 988.0,965.1 988.5,982.9 989.0,1006.6 989.5,1032.5 990.0,1054.2 990.5,1067.6 991.0,1078.7 991.5,1088.6 992.0,1097.2 992.5,1104.8 993.0,1111.2 993.5,1116.6 994.0,1121.1 994.5,1125.2 995.0,1129.1 995.5,1132.4 996.0,1134.8 996.5,1135.9 997.0,1132.8 997.5,1123.2 998.0,1112.0 998.5,1104.5 999.0,1099.4 999.5,1095.0 1000.0,1092.0 1000.5,1090.5 1001.0,1089.3 1001.5,1088.3 1002.0,1087.7 1002.5,1087.4 1003.0,1094.8 1003.5,1099.9 1004.0,1097.9 1004.5,1093.8 1005.0,1089.0 1005.5,1084.7 1006.0,1081.1 1006.5,1077.1 1007.0,1073.2 1007.5,1069.9 1008.0,1067.9 1008.5,1067.8 1009.0,1070.4 1009.5,1074.9 1010.0,1080.5 1010.5,1086.3 1011.0,1091.3 1011.5,1095.8 1012.0,1100.8 1012.5,1105.9 1013.0,1111.0 1013.5,1115.9 1014.0,1120.4 1014.5,1124.4 1015.0,1127.7 1015.5,1130.0 1016.0,1131.6 1016.5,1133.1 1017.0,1134.5 1017.5,1135.9 1018.0,1137.1 1018.5,1138.1 1019.0,1139.1 1019.5,1139.8 1020.0,1140.3 1020.5,1140.7 1021.0,1140.8 1021.5,1140.7 1022.0,1140.4 1022.5,1139.9 1023.0,1139.2 1023.5,1138.3 1024.0,1137.3 1024.5,1136.2 1025.0,1134.1 1025.5,1129.9 1026.0,1124.3 1026.5,1118.2 1027.0,1112.2 1027.5,1107.0 1028.0,1101.0 1028.5,1094.9 1029.0,1090.0 1029.5,1087.5 1030.0,1088.3 1030.5,1091.4 1031.0,1096.1 1031.5,1101.6 1032.0,1107.3 1032.5,1112.4 1033.0,1116.3 1033.5,1118.1 1034.0,1117.6 1034.5,1115.6 1035.0,1112.5 1035.5,1108.9 1036.0,1105.3 1036.5,1101.9 1037.0,1099.5 1037.5,1098.3 1038.0,1099.0 1038.5,1101.7 1039.0,1105.5 1039.5,1109.5 1040.0,1112.9 1040.5,1116.0 1041.0,1119.4 1041.5,1122.7 1042.0,1125.3 1042.5,1126.7 1043.0,1126.3 1043.5,1123.5 1044.0,1118.7 1044.5,1112.5 1045.0,1105.5 1045.5,1098.3 1046.0,1091.4 1046.5,1085.4 1047.0,1081.0 1047.5,1078.6 1048.0,1078.6 1048.5,1079.8 1049.0,1081.9 1049.5,1084.6 1050.0,1087.4 1050.5,1091.8 1051.0,1098.1 1051.5,1105.4 1052.0,1112.5 1052.5,1118.4 1053.0,1122.6 1053.5,1126.3 1054.0,1129.6 1054.5,1132.5 1055.0,1134.7 1055.5,1136.1 1056.0,1137.2 1056.5,1138.2 1057.0,1139.1 1057.5,1139.8 1058.0,1140.3 1058.5,1140.7 1059.0,1140.8 1059.5,1140.8 1060.0,1140.8 1060.5,1140.8 1061.0,1140.8 1061.5,1140.8 1062.0,1140.8 1062.5,1140.8 1063.0,1140.8 1063.5,1140.8 1064.0,1140.8 1064.5,1140.8 1065.0,1140.8 1065.5,1140.8 1066.0,1140.3 1066.5,1139.3 1067.0,1137.7 1067.5,1135.6 1068.0,1133.0 1068.5,1127.2 1069.0,1114.6 1069.5,1099.2 1070.0,1084.7 1070.5,1069.2 1071.0,1054.3 1071.5,1044.1 1072.0,1035.4 1072.5,1028.5 1073.0,1025.1 1073.5,1025.8 1074.0,1028.3 1074.5,1031.6 1075.0,1034.8 1075.5,1036.7 1076.0,1036.1 1076.5,1032.3 1077.0,1027.1 1077.5,1022.5 1078.0,1020.5 1078.5,1030.5 1079.0,1052.1 1079.5,1072.3 1080.0,1080.0 1080.5,1082.9 1081.0,1084.8 1081.5,1086.4 1082.0,1088.3 1082.5,1091.3 1083.0,1097.6 1083.5,1107.5 1084.0,1118.5 1084.5,1128.0 1085.0,1133.6 1085.5,1132.9 1086.0,1125.6 1086.5,1113.8 1087.0,1099.1 1087.5,1083.7 1088.0,1069.3 1088.5,1054.4 1089.0,1037.9 1089.5,1022.6 1090.0,1010.9 1090.5,999.7 1091.0,989.6 1091.5,982.7 1092.0,980.8 1092.5,982.2 1093.0,985.2 1093.5,989.3 1094.0,994.1 1094.5,999.5 1095.0,1007.7 1095.5,1018.6 1096.0,1031.0 1096.5,1043.9 1097.0,1056.2 1097.5,1066.7 1098.0,1074.5 1098.5,1080.9 1099.0,1086.9 1099.5,1092.4 1100.0,1097.6 1100.5,1102.3 1101.0,1106.6 1101.5,1110.5 1102.0,1113.9 1102.5,1117.0 1103.0,1119.9 1103.5,1122.7 1104.0,1125.5 1104.5,1128.1 1105.0,1130.5 1105.5,1132.7 1106.0,1134.6 1106.5,1136.2 1107.0,1137.5 1107.5,1138.4 1108.0,1138.9 1108.5,1139.2 1109.0,1139.6 1109.5,1139.9 1110.0,1140.2 1110.5,1140.4 1111.0,1140.6 1111.5,1140.7 1112.0,1140.8 1112.5,1140.8 1113.0,1140.8 1113.5,1140.7 1114.0,1140.5 1114.5,1140.3 1115.0,1140.1 1115.5,1139.7 1116.0,1139.4 1116.5,1138.9 1117.0,1138.3 1117.5,1137.7 1118.0,1137.0 1118.5,1136.3 1119.0,1134.3 1119.5,1127.4 1120.0,1116.1 1120.5,1101.3 1121.0,1084.1 1121.5,1064.9 1122.0,1032.2 1122.5,1007.0 1123.0,986.9 1123.5,970.8 1124.0,962.9 1124.5,963.8 1125.0,967.8 1125.5,973.8 1126.0,980.4 1126.5,990.0 1127.0,1003.0 1127.5,1017.9 1128.0,1033.4 1128.5,1048.4 1129.0,1063.3 1129.5,1079.6 1130.0,1094.1 1130.5,1103.5 1131.0,1110.2 1131.5,1116.1 1132.0,1121.0 1132.5,1124.6 1133.0,1126.6 1133.5,1127.5 1134.0,1128.0 1134.5,1128.4 1135.0,1128.7 1135.5,1129.0 1136.0,1129.4 1136.5,1129.9 1137.0,1130.7 1137.5,1132.5 1138.0,1134.8 1138.5,1137.2 1139.0,1139.0 1139.5,1139.8 1140.0,1137.7 1140.5,1132.3 1141.0,1124.9 1141.5,1116.5 1142.0,1108.4 1142.5,1100.9 1143.0,1091.4 1143.5,1082.3 1144.0,1076.1 1144.5,1075.1 1145.0,1076.9 1145.5,1080.2 1146.0,1084.6 1146.5,1089.4 1147.0,1095.1 1147.5,1104.4 1148.0,1114.9 1148.5,1123.3 1149.0,1126.9 1149.5,1124.9 1150.0,1120.2 1150.5,1114.0 1151.0,1107.7 1151.5,1102.1 1152.0,1095.3 1152.5,1088.5 1153.0,1083.7 1153.5,1082.3 1154.0,1083.6 1154.5,1086.6 1155.0,1090.6 1155.5,1095.3 1156.0,1100.2 1156.5,1104.7 1157.0,1109.4 1157.5,1115.3 1158.0,1121.3 1158.5,1126.5 1159.0,1129.7 1159.5,1130.3 1160.0,1130.3 1160.5,1130.2 1161.0,1130.0 1161.5,1129.7 1162.0,1129.4 1162.5,1129.0 1163.0,1128.6 1163.5,1126.4 1164.0,1121.0 1164.5,1113.1 1165.0,1103.3 1165.5,1092.1 1166.0,1076.3 1166.5,1046.8 1167.0,1017.4 1167.5,1004.1 1168.0,1004.3 1168.5,1004.8 1169.0,1005.6 1169.5,1007.3 1170.0,1015.1 1170.5,1027.9 1171.0,1043.1 1171.5,1057.8 1172.0,1069.3 1172.5,1079.2 1173.0,1088.7 1173.5,1095.3 1174.0,1095.9 1174.5,1090.6 1175.0,1082.0 1175.5,1073.5 1176.0,1068.1 1176.5,1068.3 1177.0,1072.0 1177.5,1077.8 1178.0,1084.1 1178.5,1089.5 1179.0,1092.7 1179.5,1090.0 1180.0,1075.0 1180.5,1055.0 1181.0,1038.6 1181.5,1026.2 1182.0,1013.6 1182.5,1002.7 1183.0,995.4 1183.5,993.5 1184.0,999.1 1184.5,1010.3 1185.0,1024.3 1185.5,1037.9 1186.0,1050.9 1186.5,1065.5 1187.0,1079.1 1187.5,1089.1 1188.0,1097.0 1188.5,1104.3 1189.0,1110.8 1189.5,1116.6 1190.0,1121.5 1190.5,1125.5 1191.0,1128.6 1191.5,1131.1 1192.0,1133.5 1192.5,1135.7 1193.0,1137.5 1193.5,1139.0 1194.0,1140.0 1194.5,1140.4 1195.0,1140.4 1195.5,1140.4 1196.0,1140.2 1196.5,1140.0 1197.0,1139.8 1197.5,1139.4 1198.0,1139.0 1198.5,1138.4 1199.0,1137.8 1199.5,1103.0 1200.0,998.5 1200.5,886.2 1201.0,828.6 1201.5,805.7 1202.0,801.0 1202.5,803.2 1203.0,807.7 1203.5,814.5 1204.0,843.3 1204.5,888.3 1205.0,911.1 1205.5,929.5 1206.0,944.9 1206.5,958.5 1207.0,971.8 1207.5,986.0 1208.0,1002.5 1208.5,1023.1 1209.0,1047.0 1209.5,1070.0 1210.0,1087.4 1210.5,1100.8 1211.0,1113.5 1211.5,1124.6 1212.0,1132.9 1212.5,1137.2 1213.0,1137.7 1213.5,1137.7 1214.0,1137.7 1214.5,1137.7 1215.0,1137.7 1215.5,1137.7 1216.0,1137.7 1216.5,1137.7 1217.0,1137.7 1217.5,1137.7 1218.0,1137.7 1218.5,1137.7 1219.0,1137.7 1219.5,1137.7 1220.0,1137.6 1220.5,1137.1 1221.0,1135.8 1221.5,1134.0 1222.0,1131.8 1222.5,1129.4 1223.0,1127.0 1223.5,1124.7 1224.0,1122.8 1224.5,1121.3 1225.0,1120.4 1225.5,1120.4 1226.0,1122.0 1226.5,1124.8 1227.0,1128.3 1227.5,1132.1 1228.0,1135.4 1228.5,1137.8 1229.0,1138.7 1229.5,1138.7 1230.0,1138.7 1230.5,1138.7 1231.0,1138.7 1231.5,1138.7 1232.0,1138.7 1232.5,1138.7 1233.0,1138.7 1233.5,1138.7 1234.0,1138.7 1234.5,1138.4 1235.0,1137.6 1235.5,1136.5 1236.0,1135.0 1236.5,1133.2 1237.0,1131.3 1237.5,1129.4 1238.0,1127.5 1238.5,1125.7 1239.0,1124.1 1239.5,1122.9 1240.0,1122.0 1240.5,1121.6 1241.0,1121.9 1241.5,1122.9 1242.0,1124.4 1242.5,1126.4 1243.0,1128.7 1243.5,1131.0 1244.0,1133.3 1244.5,1135.4 1245.0,1137.1 1245.5,1138.2 1246.0,1138.7 1246.5,1138.8 1247.0,1138.8 1247.5,1138.9 1248.0,1138.9 1248.5,1138.9 1249.0,1139.0 1249.5,1139.0 1250.0,1139.1 1250.5,1139.1 1251.0,1139.1 1251.5,1139.1 1252.0,1139.2 1252.5,1139.2 1253.0,1139.2 1253.5,1139.2 1254.0,1139.2 1254.5,1139.2 1255.0,1139.3 1255.5,1139.3 1256.0,1139.3 1256.5,1139.3 1257.0,1139.3 1257.5,1139.3 1258.0,1139.3 1258.5,1139.4 1259.0,1139.4 1259.5,1139.4 1260.0,1139.4 1260.5,1139.4 1261.0,1139.4 1261.5,1139.5 1262.0,1139.5 1262.5,1139.5 1263.0,1139.5 1263.5,1139.5 1264.0,1139.5 1264.5,1139.6 1265.0,1139.6 1265.5,1139.6 1266.0,1139.6 1266.5,1139.6 1267.0,1139.6 1267.5,1139.7 1268.0,1139.7 1268.5,1139.7 1269.0,1139.7 1269.5,1139.7 1270.0,1139.7 1270.5,1139.7 1271.0,1139.8 1271.5,1139.8 1272.0,1139.8 1272.5,1139.8 1273.0,1139.8 1273.5,1139.8 1274.0,1139.9 1274.5,1139.9 1275.0,1139.9 1275.5,1139.9 1276.0,1139.9 1276.5,1139.9 1277.0,1139.9 1277.5,1139.9 1278.0,1140.0 1278.5,1140.0 1279.0,1140.0 1279.5,1140.0 1280.0,1140.0 1280.5,1140.0 1281.0,1140.0 1281.5,1140.0 1282.0,1140.0 1282.5,1140.0 1283.0,1140.0 1283.5,1140.1 1284.0,1140.1 1284.5,1140.1 1285.0,1140.1 1285.5,1140.1 1286.0,1140.1 1286.5,1140.1 1287.0,1140.1 1287.5,1140.1 1288.0,1140.1 1288.5,1140.1 1289.0,1140.1 1289.5,1140.1 1290.0,1140.1 1290.5,1140.1 1291.0,1140.1 1291.5,1140.1 1292.0,1140.1 1292.5,1140.1 1293.0,1140.1 1293.5,1140.1 1294.0,1140.1 1294.5,1140.1 1295.0,1140.1 1295.5,1140.1 1296.0,1140.1 1296.5,1140.1 1297.0,1140.1 1297.5,1140.1 1298.0,1140.1 1298.5,1140.1 1299.0,1140.1 1299.5,1140.1 1300.0,1140.1 1300.5,1140.1 1301.0,1140.1 1301.5,1140.1 1302.0,1140.1 1302.5,1140.1 1303.0,1140.1 1303.5,1140.1 1304.0,1140.1 1304.5,1139.9 1305.0,1139.2 1305.5,1138.3 1306.0,1137.1 1306.5,1135.8 1307.0,1134.5 1307.5,1133.2 1308.0,1132.1 1308.5,1131.3 1309.0,1130.8 1309.5,1130.7 1310.0,1131.2 1310.5,1132.2 1311.0,1133.5 1311.5,1134.9 1312.0,1136.4 1312.5,1137.8 1313.0,1139.0 1313.5,1139.8 1314.0,1140.1 1314.5,1140.1 1315.0,1140.2 1315.5,1140.2 1316.0,1140.2 1316.5,1140.2 1317.0,1140.2 1317.5,1140.3 1318.0,1140.3 1318.5,1140.3 1319.0,1140.3 1319.5,1140.3 1320.0,1140.3 1320.5,1140.3 1321.0,1140.4 1321.5,1140.4 1322.0,1140.4 1322.5,1140.4 1323.0,1140.4 1323.5,1140.4 1324.0,1140.4 1324.5,1140.4 1325.0,1140.4 1325.5,1140.4 1326.0,1140.4 1326.5,1140.4 1327.0,1140.4 1327.5,1140.4 1328.0,1140.4 1328.5,1140.4 1329.0,1140.4 1329.5,1140.4 1330.0,1140.5 1330.5,1140.5 1331.0,1140.5"/>
<text x="846.89" y="806.6" font-size="23.8" font-weight="bold" text-anchor="start" fill="#000" textLength="89.35" lengthAdjust="spacingAndGlyphs">m/z 306</text>
<text x="1008.92" y="864.6" font-size="24.3" font-weight="bold" text-anchor="start" fill="#000" textLength="155.05" lengthAdjust="spacingAndGlyphs">1: 2378-TCDF</text>
<text x="1298" y="1117.8" font-size="19.6" font-weight="normal" text-anchor="start" fill="#000" stroke="#000" stroke-width="0.3">min</text>
<text x="1173.8" y="981.2" font-size="24" font-weight="normal" text-anchor="start" fill="#000" stroke="#000" stroke-width="0.35">1</text>
<line x1="161.4" y1="1399.4" x2="161.4" y2="1752" stroke="#000" stroke-width="1.8"/>
<line x1="154.6" y1="1399.4" x2="161.4" y2="1399.4" stroke="#000" stroke-width="1.6"/>
<text x="150.9" y="1405.3" font-size="21.3" font-weight="normal" text-anchor="end" fill="#000" stroke="#000" stroke-width="0.4">100</text>
<line x1="154.6" y1="1574.5" x2="161.4" y2="1574.5" stroke="#000" stroke-width="1.6"/>
<text x="150.9" y="1580.4" font-size="21.3" font-weight="normal" text-anchor="end" fill="#000" stroke="#000" stroke-width="0.4">50</text>
<line x1="154.6" y1="1749.6" x2="161.4" y2="1749.6" stroke="#000" stroke-width="1.6"/>
<text x="150.9" y="1755.5" font-size="21.3" font-weight="normal" text-anchor="end" fill="#000" stroke="#000" stroke-width="0.4">0</text>
<line x1="161.4" y1="1751" x2="668" y2="1751" stroke="#000" stroke-width="2.4"/>
<line x1="173.5" y1="1751" x2="173.5" y2="1759.3" stroke="#000" stroke-width="1.9"/>
<line x1="235.6" y1="1751" x2="235.6" y2="1759.3" stroke="#000" stroke-width="1.9"/>
<text x="235.6" y="1776.0" font-size="21.3" font-weight="normal" text-anchor="middle" fill="#000" stroke="#000" stroke-width="0.4">51</text>
<line x1="297.7" y1="1751" x2="297.7" y2="1759.3" stroke="#000" stroke-width="1.9"/>
<line x1="359.8" y1="1751" x2="359.8" y2="1759.3" stroke="#000" stroke-width="1.9"/>
<text x="359.8" y="1776.0" font-size="21.3" font-weight="normal" text-anchor="middle" fill="#000" stroke="#000" stroke-width="0.4">52</text>
<line x1="421.9" y1="1751" x2="421.9" y2="1759.3" stroke="#000" stroke-width="1.9"/>
<line x1="484.0" y1="1751" x2="484.0" y2="1759.3" stroke="#000" stroke-width="1.9"/>
<text x="484.0" y="1776.0" font-size="21.3" font-weight="normal" text-anchor="middle" fill="#000" stroke="#000" stroke-width="0.4">53</text>
<line x1="546.1" y1="1751" x2="546.1" y2="1759.3" stroke="#000" stroke-width="1.9"/>
<line x1="608.2" y1="1751" x2="608.2" y2="1759.3" stroke="#000" stroke-width="1.9"/>
<text x="608.2" y="1776.0" font-size="21.3" font-weight="normal" text-anchor="middle" fill="#000" stroke="#000" stroke-width="0.4">54</text>
<polyline fill="none" stroke="#000" stroke-width="1.5" stroke-linejoin="round" points="162.0,1750.3 162.5,1750.3 163.0,1750.3 163.5,1750.3 164.0,1750.3 164.5,1750.3 165.0,1750.3 165.5,1750.3 166.0,1750.3 166.5,1750.3 167.0,1750.3 167.5,1750.3 168.0,1750.3 168.5,1750.3 169.0,1750.3 169.5,1750.3 170.0,1750.3 170.5,1750.3 171.0,1750.3 171.5,1750.3 172.0,1750.3 172.5,1750.3 173.0,1750.3 173.5,1750.3 174.0,1750.3 174.5,1750.3 175.0,1750.3 175.5,1750.3 176.0,1750.3 176.5,1750.3 177.0,1750.3 177.5,1750.3 178.0,1750.3 178.5,1750.3 179.0,1750.3 179.5,1750.3 180.0,1750.3 180.5,1750.3 181.0,1750.3 181.5,1750.3 182.0,1750.3 182.5,1750.3 183.0,1750.3 183.5,1750.3 184.0,1750.3 184.5,1750.3 185.0,1750.3 185.5,1750.3 186.0,1750.3 186.5,1750.3 187.0,1750.3 187.5,1750.3 188.0,1750.3 188.5,1750.3 189.0,1750.3 189.5,1750.3 190.0,1750.3 190.5,1750.3 191.0,1750.3 191.5,1750.3 192.0,1750.3 192.5,1750.3 193.0,1750.3 193.5,1750.3 194.0,1750.3 194.5,1750.3 195.0,1750.3 195.5,1750.3 196.0,1750.3 196.5,1750.3 197.0,1750.3 197.5,1750.3 198.0,1750.3 198.5,1750.3 199.0,1750.3 199.5,1750.3 200.0,1750.3 200.5,1750.3 201.0,1750.3 201.5,1750.3 202.0,1750.3 202.5,1750.3 203.0,1750.3 203.5,1750.3 204.0,1750.3 204.5,1750.3 205.0,1750.3 205.5,1750.3 206.0,1750.3 206.5,1750.3 207.0,1750.3 207.5,1750.3 208.0,1750.3 208.5,1750.3 209.0,1750.3 209.5,1750.3 210.0,1750.3 210.5,1750.3 211.0,1750.3 211.5,1750.3 212.0,1750.3 212.5,1750.3 213.0,1750.3 213.5,1750.3 214.0,1750.3 214.5,1750.3 215.0,1750.3 215.5,1750.3 216.0,1750.3 216.5,1750.3 217.0,1750.3 217.5,1750.3 218.0,1750.3 218.5,1750.3 219.0,1750.3 219.5,1750.3 220.0,1750.3 220.5,1750.3 221.0,1750.3 221.5,1750.3 222.0,1750.3 222.5,1750.3 223.0,1750.3 223.5,1750.3 224.0,1750.3 224.5,1750.3 225.0,1750.3 225.5,1750.3 226.0,1750.3 226.5,1750.3 227.0,1750.3 227.5,1750.3 228.0,1750.3 228.5,1750.3 229.0,1750.3 229.5,1750.3 230.0,1750.3 230.5,1749.5 231.0,1747.8 231.5,1745.2 232.0,1741.7 232.5,1737.5 233.0,1730.1 233.5,1712.4 234.0,1690.2 234.5,1670.6 235.0,1656.8 235.5,1645.6 236.0,1634.6 236.5,1621.3 237.0,1603.5 237.5,1573.5 238.0,1519.7 238.5,1444.2 239.0,1417.2 239.5,1403.1 240.0,1400.2 240.5,1419.0 241.0,1438.2 241.5,1454.2 242.0,1469.1 242.5,1482.0 243.0,1492.2 243.5,1500.3 244.0,1508.6 244.5,1519.0 245.0,1532.7 245.5,1548.8 246.0,1565.9 246.5,1582.9 247.0,1600.1 247.5,1618.7 248.0,1639.8 248.5,1669.6 249.0,1691.5 249.5,1703.1 250.0,1712.7 250.5,1720.2 251.0,1725.8 251.5,1729.7 252.0,1732.4 252.5,1734.8 253.0,1737.0 253.5,1739.0 254.0,1740.7 254.5,1742.3 255.0,1743.6 255.5,1744.6 256.0,1745.5 256.5,1746.1 257.0,1746.4 257.5,1746.7 258.0,1746.9 258.5,1747.0 259.0,1747.2 259.5,1747.3 260.0,1747.4 260.5,1747.5 261.0,1747.6 261.5,1747.7 262.0,1747.8 262.5,1747.9 263.0,1748.1 263.5,1748.2 264.0,1748.5 264.5,1748.8 265.0,1749.1 265.5,1749.4 266.0,1749.7 266.5,1749.9 267.0,1749.9 267.5,1749.9 268.0,1749.9 268.5,1749.9 269.0,1749.9 269.5,1749.9 270.0,1749.9 270.5,1749.9 271.0,1749.9 271.5,1749.9 272.0,1749.9 272.5,1749.9 273.0,1749.9 273.5,1749.9 274.0,1749.9 274.5,1749.9 275.0,1749.9 275.5,1749.9 276.0,1749.9 276.5,1749.9 277.0,1749.9 277.5,1749.9 278.0,1749.9 278.5,1749.9 279.0,1749.9 279.5,1749.9 280.0,1749.9 280.5,1749.9 281.0,1749.9 281.5,1749.9 282.0,1749.9 282.5,1749.9 283.0,1749.9 283.5,1749.9 284.0,1749.9 284.5,1749.9 285.0,1749.9 285.5,1749.5 286.0,1747.9 286.5,1745.4 287.0,1742.3 287.5,1738.7 288.0,1735.1 288.5,1731.6 289.0,1728.2 289.5,1724.1 290.0,1719.4 290.5,1714.6 291.0,1709.9 291.5,1705.8 292.0,1702.7 292.5,1700.8 293.0,1700.6 293.5,1702.2 294.0,1705.1 294.5,1708.8 295.0,1712.8 295.5,1716.7 296.0,1720.0 296.5,1723.2 297.0,1726.6 297.5,1729.9 298.0,1733.2 298.5,1736.1 299.0,1738.7 299.5,1740.8 300.0,1742.6 300.5,1744.4 301.0,1746.1 301.5,1747.5 302.0,1748.7 302.5,1749.6 303.0,1749.9 303.5,1749.9 304.0,1749.9 304.5,1749.9 305.0,1749.9 305.5,1749.9 306.0,1749.9 306.5,1749.9 307.0,1749.9 307.5,1749.9 308.0,1749.9 308.5,1749.9 309.0,1749.9 309.5,1749.9 310.0,1749.9 310.5,1749.9 311.0,1749.9 311.5,1749.9 312.0,1749.9 312.5,1749.7 313.0,1748.0 313.5,1745.3 314.0,1742.0 314.5,1738.3 315.0,1734.7 315.5,1731.7 316.0,1729.5 316.5,1727.3 317.0,1725.1 317.5,1723.0 318.0,1721.0 318.5,1719.2 319.0,1717.7 319.5,1716.6 320.0,1716.0 320.5,1716.0 321.0,1716.9 321.5,1718.6 322.0,1720.9 322.5,1723.5 323.0,1726.1 323.5,1728.6 324.0,1730.7 324.5,1732.7 325.0,1735.0 325.5,1737.2 326.0,1739.5 326.5,1741.6 327.0,1743.4 327.5,1744.9 328.0,1746.0 328.5,1746.5 329.0,1746.8 329.5,1747.2 330.0,1747.5 330.5,1747.8 331.0,1748.0 331.5,1748.3 332.0,1748.5 332.5,1748.7 333.0,1748.9 333.5,1749.1 334.0,1749.3 334.5,1749.5 335.0,1749.6 335.5,1749.7 336.0,1749.9 336.5,1750.0 337.0,1750.1 337.5,1750.1 338.0,1750.2 338.5,1750.2 339.0,1750.3 339.5,1750.3 340.0,1750.3 340.5,1750.3 341.0,1750.3 341.5,1750.3 342.0,1750.3 342.5,1750.3 343.0,1750.3 343.5,1750.3 344.0,1750.3 344.5,1750.3 345.0,1750.3 345.5,1750.3 346.0,1750.3 346.5,1750.3 347.0,1750.3 347.5,1750.3 348.0,1750.3 348.5,1750.3 349.0,1750.3 349.5,1750.3 350.0,1750.3 350.5,1750.3 351.0,1750.3 351.5,1750.3 352.0,1750.3 352.5,1750.3 353.0,1750.3 353.5,1750.3 354.0,1750.3 354.5,1750.3 355.0,1750.3 355.5,1750.3 356.0,1750.3 356.5,1750.3 357.0,1750.3 357.5,1750.3 358.0,1750.3 358.5,1750.3 359.0,1750.3 359.5,1750.3 360.0,1750.3 360.5,1750.3 361.0,1750.3 361.5,1750.3 362.0,1750.3 362.5,1750.3 363.0,1750.3 363.5,1750.3 364.0,1750.3 364.5,1750.3 365.0,1750.3 365.5,1750.3 366.0,1750.3 366.5,1750.3 367.0,1750.3 367.5,1750.3 368.0,1750.3 368.5,1750.3 369.0,1750.3 369.5,1750.3 370.0,1750.3 370.5,1750.3 371.0,1750.3 371.5,1750.3 372.0,1750.3 372.5,1750.3 373.0,1750.3 373.5,1750.3 374.0,1750.3 374.5,1750.3 375.0,1750.3 375.5,1750.3 376.0,1750.3 376.5,1750.3 377.0,1750.3 377.5,1750.3 378.0,1750.3 378.5,1750.3 379.0,1750.3 379.5,1750.3 380.0,1750.3 380.5,1750.3 381.0,1750.3 381.5,1750.3 382.0,1750.3 382.5,1750.3 383.0,1750.3 383.5,1750.3 384.0,1750.3 384.5,1750.3 385.0,1750.3 385.5,1750.3 386.0,1750.3 386.5,1750.3 387.0,1750.3 387.5,1750.3 388.0,1750.3 388.5,1750.3 389.0,1750.3 389.5,1750.3 390.0,1750.3 390.5,1750.3 391.0,1750.3 391.5,1750.3 392.0,1750.3 392.5,1750.3 393.0,1750.3 393.5,1750.3 394.0,1750.3 394.5,1750.3 395.0,1750.3 395.5,1750.3 396.0,1750.3 396.5,1750.3 397.0,1750.3 397.5,1750.3 398.0,1750.3 398.5,1750.3 399.0,1750.3 399.5,1750.3 400.0,1750.3 400.5,1750.3 401.0,1750.3 401.5,1750.3 402.0,1750.3 402.5,1750.3 403.0,1750.3 403.5,1750.3 404.0,1750.3 404.5,1750.3 405.0,1750.3 405.5,1750.3 406.0,1750.3 406.5,1750.3 407.0,1750.3 407.5,1750.3 408.0,1750.3 408.5,1750.3 409.0,1750.3 409.5,1750.3 410.0,1750.3 410.5,1750.3 411.0,1750.3 411.5,1750.3 412.0,1750.3 412.5,1750.3 413.0,1750.3 413.5,1750.3 414.0,1750.3 414.5,1750.3 415.0,1750.3 415.5,1750.3 416.0,1750.3 416.5,1750.3 417.0,1750.3 417.5,1750.3 418.0,1750.3 418.5,1750.3 419.0,1750.3 419.5,1750.3 420.0,1750.3 420.5,1750.3 421.0,1750.3 421.5,1750.3 422.0,1750.3 422.5,1750.3 423.0,1750.3 423.5,1750.3 424.0,1750.3 424.5,1750.3 425.0,1750.3 425.5,1750.3 426.0,1750.3 426.5,1750.3 427.0,1750.3 427.5,1750.3 428.0,1750.3 428.5,1750.3 429.0,1750.3 429.5,1750.3 430.0,1750.3 430.5,1750.3 431.0,1750.3 431.5,1750.3 432.0,1750.3 432.5,1750.3 433.0,1750.3 433.5,1750.3 434.0,1750.3 434.5,1750.3 435.0,1750.3 435.5,1750.3 436.0,1750.3 436.5,1750.3 437.0,1750.3 437.5,1750.3 438.0,1750.3 438.5,1750.3 439.0,1750.3 439.5,1750.3 440.0,1750.3 440.5,1750.3 441.0,1750.3 441.5,1750.3 442.0,1750.3 442.5,1750.3 443.0,1750.3 443.5,1750.3 444.0,1750.3 444.5,1750.3 445.0,1750.3 445.5,1750.3 446.0,1750.3 446.5,1750.3 447.0,1750.3 447.5,1750.3 448.0,1750.3 448.5,1750.3 449.0,1750.3 449.5,1750.3 450.0,1750.3 450.5,1750.3 451.0,1750.3 451.5,1750.3 452.0,1750.3 452.5,1750.3 453.0,1750.3 453.5,1750.3 454.0,1750.3 454.5,1750.3 455.0,1750.3 455.5,1750.3 456.0,1750.3 456.5,1750.3 457.0,1750.3 457.5,1750.3 458.0,1750.3 458.5,1750.3 459.0,1750.3 459.5,1750.3 460.0,1750.3 460.5,1750.3 461.0,1750.3 461.5,1750.3 462.0,1750.3 462.5,1750.3 463.0,1750.3 463.5,1750.3 464.0,1750.3 464.5,1750.3 465.0,1750.3 465.5,1750.3 466.0,1750.3 466.5,1750.3 467.0,1750.3 467.5,1750.3 468.0,1750.3 468.5,1750.3 469.0,1750.3 469.5,1750.3 470.0,1750.3 470.5,1750.3 471.0,1750.3 471.5,1750.3 472.0,1750.3 472.5,1750.3 473.0,1750.3 473.5,1750.3 474.0,1750.3 474.5,1750.3 475.0,1750.3 475.5,1750.3 476.0,1750.3 476.5,1750.3 477.0,1750.3 477.5,1750.3 478.0,1750.3 478.5,1750.3 479.0,1750.3 479.5,1750.3 480.0,1750.3 480.5,1750.3 481.0,1750.2 481.5,1750.0 482.0,1749.7 482.5,1749.4 483.0,1749.1 483.5,1748.7 484.0,1748.2 484.5,1747.1 485.0,1745.0 485.5,1742.3 486.0,1739.2 486.5,1736.1 487.0,1733.2 487.5,1731.0 488.0,1729.1 488.5,1727.1 489.0,1725.2 489.5,1723.3 490.0,1721.5 490.5,1720.0 491.0,1718.9 491.5,1718.0 492.0,1717.7 492.5,1718.0 493.0,1719.2 493.5,1721.2 494.0,1723.6 494.5,1726.2 495.0,1728.7 495.5,1731.0 496.0,1733.3 496.5,1736.0 497.0,1738.7 497.5,1741.4 498.0,1743.7 498.5,1745.4 499.0,1746.4 499.5,1747.0 500.0,1747.4 500.5,1747.8 501.0,1748.1 501.5,1748.4 502.0,1748.6 502.5,1748.8 503.0,1748.9 503.5,1749.0 504.0,1749.1 504.5,1749.1 505.0,1749.2 505.5,1749.3 506.0,1749.3 506.5,1749.4 507.0,1749.4 507.5,1749.5 508.0,1749.5 508.5,1749.6 509.0,1749.6 509.5,1749.6 510.0,1749.6 510.5,1749.6 511.0,1749.6 511.5,1749.6 512.0,1749.6 512.5,1749.6 513.0,1749.6 513.5,1749.6 514.0,1749.6 514.5,1749.7 515.0,1749.7 515.5,1749.7 516.0,1749.7 516.5,1749.7 517.0,1749.7 517.5,1749.7 518.0,1749.7 518.5,1749.7 519.0,1749.7 519.5,1749.7 520.0,1749.7 520.5,1749.7 521.0,1749.7 521.5,1749.7 522.0,1749.7 522.5,1749.7 523.0,1749.7 523.5,1749.7 524.0,1749.8 524.5,1749.8 525.0,1749.8 525.5,1749.8 526.0,1749.8 526.5,1749.8 527.0,1749.8 527.5,1749.8 528.0,1749.8 528.5,1749.8 529.0,1749.8 529.5,1749.8 530.0,1749.8 530.5,1749.8 531.0,1749.8 531.5,1749.8 532.0,1749.8 532.5,1749.8 533.0,1749.8 533.5,1749.8 534.0,1749.8 534.5,1749.9 535.0,1749.9 535.5,1749.9 536.0,1749.9 536.5,1749.9 537.0,1749.9 537.5,1749.9 538.0,1749.9 538.5,1749.9 539.0,1749.9 539.5,1749.9 540.0,1749.9 540.5,1749.9 541.0,1749.9 541.5,1749.9 542.0,1749.9 542.5,1749.9 543.0,1749.9 543.5,1749.9 544.0,1749.9 544.5,1749.9 545.0,1749.9 545.5,1749.9 546.0,1749.9 546.5,1749.9 547.0,1750.0 547.5,1750.0 548.0,1750.0 548.5,1750.0 549.0,1750.0 549.5,1750.0 550.0,1750.0 550.5,1750.0 551.0,1750.0 551.5,1750.0 552.0,1750.0 552.5,1750.0 553.0,1750.0 553.5,1750.0 554.0,1750.0 554.5,1750.0 555.0,1750.0 555.5,1750.0 556.0,1750.0 556.5,1750.0 557.0,1750.0 557.5,1750.0 558.0,1750.0 558.5,1750.0 559.0,1750.0 559.5,1750.0 560.0,1750.0 560.5,1750.0 561.0,1750.0 561.5,1750.1 562.0,1750.1 562.5,1750.1 563.0,1750.1 563.5,1750.1 564.0,1750.1 564.5,1750.1 565.0,1750.1 565.5,1750.1 566.0,1750.1 566.5,1750.1 567.0,1750.1 567.5,1750.1 568.0,1750.1 568.5,1750.1 569.0,1750.1 569.5,1750.1 570.0,1750.1 570.5,1750.1 571.0,1750.1 571.5,1750.1 572.0,1750.1 572.5,1750.1 573.0,1750.1 573.5,1750.1 574.0,1750.1 574.5,1750.1 575.0,1750.1 575.5,1750.1 576.0,1750.1 576.5,1750.1 577.0,1750.1 577.5,1750.1 578.0,1750.1 578.5,1750.1 579.0,1750.1 579.5,1750.1 580.0,1750.1 580.5,1750.1 581.0,1750.2 581.5,1750.2 582.0,1750.2 582.5,1750.2 583.0,1750.2 583.5,1750.2 584.0,1750.2 584.5,1750.2 585.0,1750.2 585.5,1750.2 586.0,1750.2 586.5,1750.2 587.0,1750.2 587.5,1750.2 588.0,1750.2 588.5,1750.2 589.0,1750.2 589.5,1750.2 590.0,1750.2 590.5,1750.2 591.0,1750.2 591.5,1750.2 592.0,1750.2 592.5,1750.2 593.0,1750.2 593.5,1750.2 594.0,1750.2 594.5,1750.2 595.0,1750.2 595.5,1750.2 596.0,1750.2 596.5,1750.2 597.0,1750.2 597.5,1750.2 598.0,1750.2 598.5,1750.2 599.0,1750.2 599.5,1750.2 600.0,1750.2 600.5,1750.2 601.0,1750.2 601.5,1750.2 602.0,1750.2 602.5,1750.2 603.0,1750.2 603.5,1750.2 604.0,1750.2 604.5,1750.2 605.0,1750.2 605.5,1750.2 606.0,1750.2 606.5,1750.2 607.0,1750.2 607.5,1750.2 608.0,1750.2 608.5,1750.2 609.0,1750.2 609.5,1750.2 610.0,1750.2 610.5,1750.2 611.0,1750.2 611.5,1750.2 612.0,1750.3 612.5,1750.3 613.0,1750.3 613.5,1750.3 614.0,1750.3 614.5,1750.3 615.0,1750.3 615.5,1750.3 616.0,1750.3 616.5,1750.3 617.0,1750.3 617.5,1750.3 618.0,1750.3 618.5,1750.3 619.0,1750.3 619.5,1750.3 620.0,1750.3 620.5,1750.3 621.0,1750.3 621.5,1750.3 622.0,1750.3 622.5,1750.3 623.0,1750.3 623.5,1750.3 624.0,1750.3 624.5,1750.3 625.0,1750.3 625.5,1750.3 626.0,1750.3 626.5,1750.3 627.0,1750.3 627.5,1750.3 628.0,1750.3 628.5,1750.3 629.0,1750.3 629.5,1750.3 630.0,1750.3 630.5,1750.3 631.0,1750.3 631.5,1750.3 632.0,1750.3 632.5,1750.3 633.0,1750.3 633.5,1750.3 634.0,1750.3 634.5,1750.3 635.0,1750.3 635.5,1750.3 636.0,1750.3 636.5,1750.3 637.0,1750.3 637.5,1750.3 638.0,1750.3 638.5,1750.3 639.0,1750.3 639.5,1750.3 640.0,1750.3 640.5,1750.3 641.0,1750.3 641.5,1750.3 642.0,1750.3 642.5,1750.3 643.0,1750.3 643.5,1750.3 644.0,1750.3 644.5,1750.3 645.0,1750.3 645.5,1750.3 646.0,1750.3 646.5,1750.3 647.0,1750.3 647.5,1750.3 648.0,1750.3 648.5,1750.3 649.0,1750.3 649.5,1750.3 650.0,1750.3 650.5,1750.3 651.0,1750.3 651.5,1750.3 652.0,1750.3 652.5,1750.3 653.0,1750.3 653.5,1750.3 654.0,1750.3 654.5,1750.3 655.0,1750.3 655.5,1750.3 656.0,1750.3 656.5,1750.3 657.0,1750.3 657.5,1750.3 658.0,1750.3 658.5,1750.3 659.0,1750.3 659.5,1750.3 660.0,1750.3 660.5,1750.3 661.0,1750.3 661.5,1750.3 662.0,1750.3 662.5,1750.3 663.0,1750.3 663.5,1750.3 664.0,1750.3 664.5,1750.3 665.0,1750.3 665.5,1750.3 666.0,1750.3 666.5,1750.3 667.0,1750.3"/>
<text x="316.87" y="1413.3" font-size="23.8" font-weight="bold" text-anchor="start" fill="#000" textLength="90.77" lengthAdjust="spacingAndGlyphs">m/z 408</text>
<text x="420.96" y="1455.4" font-size="24.3" font-weight="bold" text-anchor="start" fill="#000" textLength="216.86" lengthAdjust="spacingAndGlyphs">8: 1234678-HPCDF</text>
<text x="420.84" y="1492.4" font-size="24.3" font-weight="bold" text-anchor="start" fill="#000" textLength="216.99" lengthAdjust="spacingAndGlyphs">9: 1234789-HPCDF</text>
<text x="638.7" y="1729" font-size="19.6" font-weight="normal" text-anchor="start" fill="#000" stroke="#000" stroke-width="0.3">min</text>
<text x="261" y="1417.6" font-size="24" font-weight="normal" text-anchor="middle" fill="#000" stroke="#000" stroke-width="0.35">8</text>
<text x="494.5" y="1711" font-size="24" font-weight="normal" text-anchor="middle" fill="#000" stroke="#000" stroke-width="0.35">9</text>
<line x1="820.9" y1="1397.3" x2="820.9" y2="1755" stroke="#000" stroke-width="1.8"/>
<line x1="814.1" y1="1397.3" x2="820.9" y2="1397.3" stroke="#000" stroke-width="1.6"/>
<text x="810.4" y="1403.2" font-size="21.3" font-weight="normal" text-anchor="end" fill="#000" stroke="#000" stroke-width="0.4">100</text>
<line x1="814.1" y1="1574.8" x2="820.9" y2="1574.8" stroke="#000" stroke-width="1.6"/>
<text x="810.4" y="1580.7" font-size="21.3" font-weight="normal" text-anchor="end" fill="#000" stroke="#000" stroke-width="0.4">50</text>
<line x1="814.1" y1="1752.3" x2="820.9" y2="1752.3" stroke="#000" stroke-width="1.6"/>
<text x="810.4" y="1758.2" font-size="21.3" font-weight="normal" text-anchor="end" fill="#000" stroke="#000" stroke-width="0.4">0</text>
<line x1="820.9" y1="1754" x2="1336.5" y2="1754" stroke="#000" stroke-width="2.4"/>
<line x1="875.2" y1="1754" x2="875.2" y2="1762.3" stroke="#000" stroke-width="1.9"/>
<text x="875.2" y="1777.0" font-size="21.3" font-weight="normal" text-anchor="middle" fill="#000" stroke="#000" stroke-width="0.4">40</text>
<line x1="959.3000000000001" y1="1754" x2="959.3000000000001" y2="1762.3" stroke="#000" stroke-width="1.9"/>
<text x="959.3" y="1777.0" font-size="21.3" font-weight="normal" text-anchor="middle" fill="#000" stroke="#000" stroke-width="0.4">41</text>
<line x1="1043.4" y1="1754" x2="1043.4" y2="1762.3" stroke="#000" stroke-width="1.9"/>
<text x="1043.4" y="1777.0" font-size="21.3" font-weight="normal" text-anchor="middle" fill="#000" stroke="#000" stroke-width="0.4">42</text>
<line x1="1127.5" y1="1754" x2="1127.5" y2="1762.3" stroke="#000" stroke-width="1.9"/>
<text x="1127.5" y="1777.0" font-size="21.3" font-weight="normal" text-anchor="middle" fill="#000" stroke="#000" stroke-width="0.4">43</text>
<line x1="1211.6" y1="1754" x2="1211.6" y2="1762.3" stroke="#000" stroke-width="1.9"/>
<text x="1211.6" y="1777.0" font-size="21.3" font-weight="normal" text-anchor="middle" fill="#000" stroke="#000" stroke-width="0.4">44</text>
<line x1="1295.7" y1="1754" x2="1295.7" y2="1762.3" stroke="#000" stroke-width="1.9"/>
<text x="1295.7" y="1777.0" font-size="21.3" font-weight="normal" text-anchor="middle" fill="#000" stroke="#000" stroke-width="0.4">45</text>
<polyline fill="none" stroke="#000" stroke-width="1.5" stroke-linejoin="round" points="821.0,1753.3 821.5,1753.3 822.0,1753.3 822.5,1753.3 823.0,1753.3 823.5,1753.3 824.0,1753.3 824.5,1753.3 825.0,1753.3 825.5,1753.3 826.0,1753.3 826.5,1753.3 827.0,1753.3 827.5,1753.3 828.0,1753.3 828.5,1753.3 829.0,1753.3 829.5,1753.3 830.0,1753.3 830.5,1753.3 831.0,1753.3 831.5,1753.3 832.0,1753.3 832.5,1753.3 833.0,1753.3 833.5,1753.3 834.0,1753.3 834.5,1753.3 835.0,1753.3 835.5,1753.3 836.0,1753.3 836.5,1753.3 837.0,1753.3 837.5,1753.3 838.0,1753.3 838.5,1753.3 839.0,1753.3 839.5,1753.3 840.0,1753.3 840.5,1753.3 841.0,1753.3 841.5,1753.3 842.0,1753.3 842.5,1753.3 843.0,1753.3 843.5,1753.3 844.0,1753.3 844.5,1753.3 845.0,1753.3 845.5,1753.3 846.0,1753.3 846.5,1753.3 847.0,1753.3 847.5,1753.3 848.0,1753.3 848.5,1753.3 849.0,1753.3 849.5,1753.3 850.0,1753.3 850.5,1753.3 851.0,1753.3 851.5,1753.3 852.0,1753.3 852.5,1753.3 853.0,1753.3 853.5,1753.3 854.0,1753.3 854.5,1753.3 855.0,1753.3 855.5,1753.3 856.0,1753.3 856.5,1753.3 857.0,1753.3 857.5,1753.3 858.0,1753.3 858.5,1753.3 859.0,1753.3 859.5,1753.3 860.0,1753.3 860.5,1753.3 861.0,1753.3 861.5,1753.3 862.0,1753.3 862.5,1753.3 863.0,1753.3 863.5,1753.3 864.0,1753.3 864.5,1753.3 865.0,1753.3 865.5,1753.3 866.0,1753.3 866.5,1753.3 867.0,1753.3 867.5,1753.3 868.0,1753.3 868.5,1753.3 869.0,1753.3 869.5,1753.3 870.0,1753.3 870.5,1753.3 871.0,1753.3 871.5,1753.3 872.0,1753.3 872.5,1753.3 873.0,1753.3 873.5,1753.3 874.0,1753.3 874.5,1753.3 875.0,1753.3 875.5,1753.3 876.0,1753.3 876.5,1753.3 877.0,1753.3 877.5,1753.3 878.0,1753.3 878.5,1753.3 879.0,1753.3 879.5,1753.3 880.0,1753.3 880.5,1753.3 881.0,1753.3 881.5,1753.3 882.0,1753.3 882.5,1753.3 883.0,1753.3 883.5,1753.3 884.0,1753.3 884.5,1753.3 885.0,1753.3 885.5,1753.3 886.0,1753.3 886.5,1753.3 887.0,1753.3 887.5,1753.3 888.0,1753.3 888.5,1753.3 889.0,1753.3 889.5,1753.3 890.0,1753.3 890.5,1753.3 891.0,1753.3 891.5,1753.3 892.0,1753.3 892.5,1753.3 893.0,1753.3 893.5,1753.3 894.0,1753.3 894.5,1753.3 895.0,1753.3 895.5,1753.3 896.0,1753.3 896.5,1753.3 897.0,1753.3 897.5,1753.3 898.0,1753.3 898.5,1753.3 899.0,1753.3 899.5,1753.3 900.0,1753.3 900.5,1753.3 901.0,1753.3 901.5,1753.3 902.0,1753.2 902.5,1752.1 903.0,1750.0 903.5,1747.3 904.0,1743.8 904.5,1737.7 905.0,1729.7 905.5,1720.8 906.0,1712.0 906.5,1703.7 907.0,1694.2 907.5,1685.5 908.0,1680.0 908.5,1677.5 909.0,1675.9 909.5,1674.3 910.0,1671.9 910.5,1667.9 911.0,1662.6 911.5,1656.7 912.0,1650.8 912.5,1645.5 913.0,1639.7 913.5,1633.4 914.0,1627.3 914.5,1622.0 915.0,1618.3 915.5,1617.0 916.0,1618.0 916.5,1620.9 917.0,1624.9 917.5,1630.1 918.0,1640.6 918.5,1655.1 919.0,1670.5 919.5,1684.0 920.0,1693.2 920.5,1701.5 921.0,1709.3 921.5,1716.0 922.0,1720.8 922.5,1723.0 923.0,1722.2 923.5,1719.1 924.0,1714.0 924.5,1707.2 925.0,1699.0 925.5,1689.8 926.0,1680.0 926.5,1664.0 927.0,1640.9 927.5,1618.2 928.0,1602.9 928.5,1591.3 929.0,1580.4 929.5,1571.0 930.0,1563.8 930.5,1559.7 931.0,1559.1 931.5,1561.1 932.0,1564.8 932.5,1569.6 933.0,1574.9 933.5,1580.3 934.0,1586.2 934.5,1593.4 935.0,1601.4 935.5,1609.8 936.0,1618.2 936.5,1626.1 937.0,1633.7 937.5,1641.4 938.0,1648.7 938.5,1655.0 939.0,1660.2 939.5,1664.8 940.0,1669.0 940.5,1673.1 941.0,1677.5 941.5,1682.0 942.0,1686.4 942.5,1690.7 943.0,1695.2 943.5,1699.9 944.0,1704.8 944.5,1710.1 945.0,1716.3 945.5,1724.4 946.0,1732.4 946.5,1738.1 947.0,1740.8 947.5,1743.2 948.0,1745.3 948.5,1746.9 949.0,1748.0 949.5,1748.6 950.0,1748.6 950.5,1748.0 951.0,1747.0 951.5,1745.6 952.0,1744.0 952.5,1742.3 953.0,1740.5 953.5,1738.7 954.0,1737.1 954.5,1735.7 955.0,1734.6 955.5,1733.9 956.0,1733.7 956.5,1734.2 957.0,1735.2 957.5,1736.7 958.0,1738.3 958.5,1740.1 959.0,1741.9 959.5,1743.4 960.0,1744.8 960.5,1746.5 961.0,1748.2 961.5,1749.9 962.0,1751.4 962.5,1752.5 963.0,1753.2 963.5,1753.3 964.0,1753.3 964.5,1753.3 965.0,1753.3 965.5,1753.3 966.0,1753.3 966.5,1753.3 967.0,1753.3 967.5,1753.3 968.0,1753.3 968.5,1753.3 969.0,1753.3 969.5,1753.3 970.0,1753.3 970.5,1753.3 971.0,1753.3 971.5,1753.3 972.0,1753.3 972.5,1753.3 973.0,1753.3 973.5,1753.3 974.0,1753.3 974.5,1753.3 975.0,1753.0 975.5,1752.1 976.0,1750.8 976.5,1749.1 977.0,1747.0 977.5,1744.8 978.0,1742.4 978.5,1740.0 979.0,1737.6 979.5,1735.4 980.0,1733.3 980.5,1731.6 981.0,1730.3 981.5,1729.4 982.0,1729.1 982.5,1729.2 983.0,1729.4 983.5,1729.9 984.0,1730.4 984.5,1731.1 985.0,1731.8 985.5,1732.6 986.0,1733.5 986.5,1734.4 987.0,1735.4 987.5,1736.3 988.0,1737.3 988.5,1738.3 989.0,1739.7 989.5,1741.3 990.0,1742.8 990.5,1744.2 991.0,1745.0 991.5,1745.0 992.0,1743.7 992.5,1741.4 993.0,1738.4 993.5,1735.1 994.0,1731.9 994.5,1729.2 995.0,1727.3 995.5,1726.2 996.0,1725.4 996.5,1724.9 997.0,1724.4 997.5,1723.8 998.0,1723.2 998.5,1722.3 999.0,1721.1 999.5,1719.3 1000.0,1711.2 1000.5,1697.0 1001.0,1680.7 1001.5,1664.9 1002.0,1644.3 1002.5,1621.6 1003.0,1601.9 1003.5,1590.4 1004.0,1589.7 1004.5,1592.4 1005.0,1596.9 1005.5,1602.7 1006.0,1609.0 1006.5,1616.2 1007.0,1626.5 1007.5,1639.2 1008.0,1653.0 1008.5,1666.6 1009.0,1678.8 1009.5,1688.9 1010.0,1699.3 1010.5,1708.7 1011.0,1714.3 1011.5,1714.4 1012.0,1712.2 1012.5,1708.8 1013.0,1704.9 1013.5,1701.5 1014.0,1699.3 1014.5,1698.9 1015.0,1699.9 1015.5,1701.8 1016.0,1704.3 1016.5,1707.1 1017.0,1710.1 1017.5,1714.9 1018.0,1720.9 1018.5,1727.5 1019.0,1733.7 1019.5,1738.6 1020.0,1741.6 1020.5,1743.7 1021.0,1745.7 1021.5,1747.4 1022.0,1748.9 1022.5,1750.0 1023.0,1750.8 1023.5,1751.2 1024.0,1750.9 1024.5,1749.7 1025.0,1747.8 1025.5,1745.2 1026.0,1742.1 1026.5,1738.7 1027.0,1735.0 1027.5,1731.1 1028.0,1727.3 1028.5,1722.0 1029.0,1714.7 1029.5,1707.3 1030.0,1701.5 1030.5,1699.2 1031.0,1700.0 1031.5,1702.3 1032.0,1705.4 1032.5,1708.9 1033.0,1712.4 1033.5,1716.1 1034.0,1720.7 1034.5,1725.8 1035.0,1730.9 1035.5,1735.8 1036.0,1739.9 1036.5,1742.9 1037.0,1744.7 1037.5,1746.3 1038.0,1747.8 1038.5,1749.1 1039.0,1750.3 1039.5,1751.2 1040.0,1752.0 1040.5,1752.4 1041.0,1752.6 1041.5,1752.6 1042.0,1752.6 1042.5,1752.5 1043.0,1752.5 1043.5,1752.4 1044.0,1752.3 1044.5,1752.2 1045.0,1751.4 1045.5,1748.9 1046.0,1744.5 1046.5,1738.1 1047.0,1729.4 1047.5,1695.6 1048.0,1604.0 1048.5,1534.4 1049.0,1464.7 1049.5,1412.8 1050.0,1397.6 1050.5,1406.0 1051.0,1420.3 1051.5,1446.7 1052.0,1478.8 1052.5,1506.1 1053.0,1520.8 1053.5,1529.9 1054.0,1538.0 1054.5,1549.3 1055.0,1569.5 1055.5,1596.8 1056.0,1623.7 1056.5,1643.8 1057.0,1661.2 1057.5,1677.5 1058.0,1691.8 1058.5,1703.8 1059.0,1712.7 1059.5,1719.8 1060.0,1726.3 1060.5,1732.3 1061.0,1737.4 1061.5,1741.6 1062.0,1744.6 1062.5,1746.4 1063.0,1747.1 1063.5,1747.8 1064.0,1748.4 1064.5,1749.0 1065.0,1749.6 1065.5,1750.1 1066.0,1750.5 1066.5,1751.0 1067.0,1751.4 1067.5,1751.7 1068.0,1752.0 1068.5,1752.3 1069.0,1752.5 1069.5,1752.7 1070.0,1752.9 1070.5,1753.1 1071.0,1753.2 1071.5,1753.2 1072.0,1753.3 1072.5,1753.3 1073.0,1752.3 1073.5,1749.4 1074.0,1745.0 1074.5,1739.6 1075.0,1733.4 1075.5,1726.1 1076.0,1714.4 1076.5,1699.4 1077.0,1682.6 1077.5,1665.3 1078.0,1649.0 1078.5,1634.3 1079.0,1619.6 1079.5,1603.0 1080.0,1580.0 1080.5,1546.3 1081.0,1541.7 1081.5,1542.8 1082.0,1544.8 1082.5,1547.5 1083.0,1560.3 1083.5,1585.0 1084.0,1610.6 1084.5,1627.7 1085.0,1641.1 1085.5,1653.5 1086.0,1664.8 1086.5,1675.0 1087.0,1684.2 1087.5,1692.3 1088.0,1699.5 1088.5,1706.2 1089.0,1712.6 1089.5,1718.6 1090.0,1724.2 1090.5,1729.3 1091.0,1733.9 1091.5,1737.8 1092.0,1741.0 1092.5,1743.4 1093.0,1745.6 1093.5,1747.6 1094.0,1749.4 1094.5,1751.0 1095.0,1752.2 1095.5,1753.0 1096.0,1753.3 1096.5,1752.8 1097.0,1751.3 1097.5,1748.9 1098.0,1745.9 1098.5,1742.2 1099.0,1738.1 1099.5,1733.7 1100.0,1729.2 1100.5,1724.5 1101.0,1720.0 1101.5,1715.7 1102.0,1711.7 1102.5,1708.1 1103.0,1704.2 1103.5,1699.9 1104.0,1695.7 1104.5,1692.2 1105.0,1689.9 1105.5,1689.3 1106.0,1690.4 1106.5,1692.9 1107.0,1696.1 1107.5,1699.7 1108.0,1703.1 1108.5,1707.2 1109.0,1712.1 1109.5,1717.4 1110.0,1722.7 1110.5,1727.6 1111.0,1731.8 1111.5,1735.0 1112.0,1737.8 1112.5,1740.6 1113.0,1743.2 1113.5,1745.7 1114.0,1747.8 1114.5,1749.7 1115.0,1751.1 1115.5,1751.9 1116.0,1752.3 1116.5,1752.4 1117.0,1752.5 1117.5,1752.6 1118.0,1752.6 1118.5,1752.7 1119.0,1752.8 1119.5,1752.9 1120.0,1752.9 1120.5,1753.0 1121.0,1753.0 1121.5,1753.1 1122.0,1753.1 1122.5,1753.2 1123.0,1753.2 1123.5,1753.2 1124.0,1753.2 1124.5,1753.3 1125.0,1753.3 1125.5,1753.3 1126.0,1753.3 1126.5,1753.3 1127.0,1753.3 1127.5,1753.3 1128.0,1753.3 1128.5,1753.3 1129.0,1753.3 1129.5,1753.3 1130.0,1753.3 1130.5,1753.3 1131.0,1753.3 1131.5,1753.3 1132.0,1753.3 1132.5,1753.3 1133.0,1753.3 1133.5,1753.3 1134.0,1753.3 1134.5,1753.3 1135.0,1753.3 1135.5,1753.3 1136.0,1753.3 1136.5,1753.3 1137.0,1753.3 1137.5,1753.3 1138.0,1753.3 1138.5,1753.3 1139.0,1753.3 1139.5,1753.3 1140.0,1753.3 1140.5,1753.2 1141.0,1752.3 1141.5,1750.5 1142.0,1748.1 1142.5,1745.2 1143.0,1742.0 1143.5,1738.7 1144.0,1735.5 1144.5,1732.5 1145.0,1729.9 1145.5,1727.9 1146.0,1726.1 1146.5,1724.3 1147.0,1722.3 1147.5,1719.7 1148.0,1716.2 1148.5,1711.2 1149.0,1689.3 1149.5,1650.2 1150.0,1603.3 1150.5,1557.7 1151.0,1522.5 1151.5,1502.3 1152.0,1484.7 1152.5,1469.7 1153.0,1459.2 1153.5,1455.3 1154.0,1461.2 1154.5,1475.8 1155.0,1494.9 1155.5,1513.9 1156.0,1529.8 1156.5,1545.4 1157.0,1561.3 1157.5,1577.5 1158.0,1594.0 1158.5,1610.8 1159.0,1629.9 1159.5,1649.4 1160.0,1665.8 1160.5,1677.2 1161.0,1687.8 1161.5,1697.9 1162.0,1706.8 1162.5,1714.2 1163.0,1719.7 1163.5,1722.9 1164.0,1722.3 1164.5,1710.7 1165.0,1689.9 1165.5,1663.4 1166.0,1635.3 1166.5,1609.1 1167.0,1579.6 1167.5,1543.9 1168.0,1510.0 1168.5,1485.8 1169.0,1478.9 1169.5,1479.8 1170.0,1482.3 1170.5,1486.2 1171.0,1491.6 1171.5,1498.5 1172.0,1507.0 1172.5,1517.2 1173.0,1534.5 1173.5,1581.9 1174.0,1606.1 1174.5,1621.2 1175.0,1633.0 1175.5,1642.9 1176.0,1652.0 1176.5,1661.8 1177.0,1672.8 1177.5,1684.1 1178.0,1694.9 1178.5,1704.1 1179.0,1710.9 1179.5,1715.0 1180.0,1718.7 1180.5,1722.1 1181.0,1725.5 1181.5,1728.6 1182.0,1731.5 1182.5,1734.3 1183.0,1736.8 1183.5,1739.2 1184.0,1741.3 1184.5,1743.2 1185.0,1744.9 1185.5,1746.4 1186.0,1747.6 1186.5,1748.6 1187.0,1749.3 1187.5,1749.8 1188.0,1750.1 1188.5,1750.1 1189.0,1750.1 1189.5,1750.1 1190.0,1750.1 1190.5,1750.1 1191.0,1750.1 1191.5,1750.1 1192.0,1750.1 1192.5,1750.1 1193.0,1750.1 1193.5,1750.1 1194.0,1750.1 1194.5,1750.1 1195.0,1750.1 1195.5,1750.1 1196.0,1750.1 1196.5,1750.1 1197.0,1750.1 1197.5,1750.1 1198.0,1750.1 1198.5,1750.1 1199.0,1750.1 1199.5,1750.1 1200.0,1750.1 1200.5,1750.1 1201.0,1750.1 1201.5,1750.1 1202.0,1750.0 1202.5,1749.9 1203.0,1749.8 1203.5,1749.6 1204.0,1749.4 1204.5,1748.5 1205.0,1746.4 1205.5,1743.5 1206.0,1740.2 1206.5,1737.0 1207.0,1734.1 1207.5,1731.9 1208.0,1730.9 1208.5,1731.2 1209.0,1732.3 1209.5,1734.0 1210.0,1736.2 1210.5,1738.7 1211.0,1741.4 1211.5,1744.0 1212.0,1746.3 1212.5,1748.3 1213.0,1749.8 1213.5,1750.5 1214.0,1750.7 1214.5,1750.9 1215.0,1751.2 1215.5,1751.4 1216.0,1751.5 1216.5,1751.7 1217.0,1751.8 1217.5,1752.0 1218.0,1752.1 1218.5,1752.1 1219.0,1752.2 1219.5,1752.2 1220.0,1752.2 1220.5,1752.2 1221.0,1752.2 1221.5,1752.2 1222.0,1752.2 1222.5,1752.2 1223.0,1752.2 1223.5,1752.2 1224.0,1752.2 1224.5,1752.2 1225.0,1752.2 1225.5,1752.2 1226.0,1752.2 1226.5,1752.2 1227.0,1752.2 1227.5,1752.2 1228.0,1752.2 1228.5,1752.2 1229.0,1752.2 1229.5,1752.2 1230.0,1752.2 1230.5,1752.2 1231.0,1752.2 1231.5,1752.2 1232.0,1752.2 1232.5,1752.2 1233.0,1752.2 1233.5,1752.2 1234.0,1752.2 1234.5,1752.2 1235.0,1752.2 1235.5,1752.2 1236.0,1752.2 1236.5,1752.2 1237.0,1752.2 1237.5,1752.2 1238.0,1752.2 1238.5,1752.2 1239.0,1752.2 1239.5,1752.2 1240.0,1752.2 1240.5,1752.2 1241.0,1752.2 1241.5,1752.2 1242.0,1752.2 1242.5,1752.2 1243.0,1752.2 1243.5,1752.1 1244.0,1751.7 1244.5,1751.2 1245.0,1750.6 1245.5,1750.0 1246.0,1749.6 1246.5,1749.4 1247.0,1749.5 1247.5,1749.9 1248.0,1750.6 1248.5,1751.3 1249.0,1751.9 1249.5,1752.4 1250.0,1752.6 1250.5,1752.6 1251.0,1752.6 1251.5,1752.6 1252.0,1752.6 1252.5,1752.6 1253.0,1752.6 1253.5,1752.6 1254.0,1752.6 1254.5,1752.6 1255.0,1752.6 1255.5,1752.6 1256.0,1752.6 1256.5,1752.6 1257.0,1752.6 1257.5,1752.6 1258.0,1752.6 1258.5,1752.6 1259.0,1752.6 1259.5,1752.6 1260.0,1752.6 1260.5,1752.6 1261.0,1752.6 1261.5,1752.6 1262.0,1752.6 1262.5,1752.6 1263.0,1752.6 1263.5,1752.6 1264.0,1752.6 1264.5,1752.6 1265.0,1752.6 1265.5,1752.6 1266.0,1752.6 1266.5,1752.6 1267.0,1752.6 1267.5,1752.6 1268.0,1752.6 1268.5,1752.6 1269.0,1752.6 1269.5,1752.6 1270.0,1752.6 1270.5,1752.6 1271.0,1752.6 1271.5,1752.6 1272.0,1752.6 1272.5,1752.6 1273.0,1752.6 1273.5,1752.6 1274.0,1752.6 1274.5,1752.6 1275.0,1752.6 1275.5,1752.6 1276.0,1752.6 1276.5,1752.6 1277.0,1752.6 1277.5,1752.6 1278.0,1752.6 1278.5,1752.6 1279.0,1752.6 1279.5,1752.6 1280.0,1752.6 1280.5,1752.6 1281.0,1752.6 1281.5,1752.6 1282.0,1752.6 1282.5,1752.6 1283.0,1752.6 1283.5,1752.0 1284.0,1750.5 1284.5,1748.3 1285.0,1745.7 1285.5,1743.0 1286.0,1740.5 1286.5,1737.8 1287.0,1734.4 1287.5,1730.9 1288.0,1727.5 1288.5,1724.7 1289.0,1722.8 1289.5,1722.4 1290.0,1723.5 1290.5,1725.9 1291.0,1729.1 1291.5,1732.7 1292.0,1736.0 1292.5,1738.7 1293.0,1741.0 1293.5,1743.5 1294.0,1746.0 1294.5,1748.3 1295.0,1750.1 1295.5,1751.4 1296.0,1751.9 1296.5,1751.9 1297.0,1752.0 1297.5,1752.0 1298.0,1752.0 1298.5,1752.1 1299.0,1752.1 1299.5,1752.1 1300.0,1752.2 1300.5,1752.2 1301.0,1752.2 1301.5,1752.2 1302.0,1752.3 1302.5,1752.3 1303.0,1752.3 1303.5,1752.4 1304.0,1752.4 1304.5,1752.4 1305.0,1752.4 1305.5,1752.5 1306.0,1752.5 1306.5,1752.5 1307.0,1752.5 1307.5,1752.5 1308.0,1752.6 1308.5,1752.6 1309.0,1752.6 1309.5,1752.6 1310.0,1752.6 1310.5,1752.6 1311.0,1752.7 1311.5,1752.7 1312.0,1752.7 1312.5,1752.7 1313.0,1752.7 1313.5,1752.7 1314.0,1752.8 1314.5,1752.8 1315.0,1752.8 1315.5,1752.8 1316.0,1752.8 1316.5,1752.8 1317.0,1752.8 1317.5,1752.8 1318.0,1752.8 1318.5,1752.8 1319.0,1752.9 1319.5,1752.9 1320.0,1752.9 1320.5,1752.9 1321.0,1752.9 1321.5,1752.9 1322.0,1752.9 1322.5,1752.9 1323.0,1752.9 1323.5,1752.9 1324.0,1752.9 1324.5,1752.9 1325.0,1752.9 1325.5,1752.9 1326.0,1752.9 1326.5,1752.9 1327.0,1752.9 1327.5,1752.9 1328.0,1752.9 1328.5,1752.9 1329.0,1752.9 1329.5,1752.9 1330.0,1752.9 1330.5,1752.9 1331.0,1752.9 1331.5,1752.9 1332.0,1752.9 1332.5,1752.9 1333.0,1752.9 1333.5,1752.9 1334.0,1752.9"/>
<text x="841.66" y="1415.2" font-size="23.8" font-weight="bold" text-anchor="start" fill="#000" textLength="91.13" lengthAdjust="spacingAndGlyphs">m/z 340</text>
<text x="839.73" y="1471.5" font-size="24.3" font-weight="bold" text-anchor="start" fill="#000" textLength="190.65" lengthAdjust="spacingAndGlyphs">2: 12378-PECDF</text>
<text x="839.98" y="1509.8" font-size="24.3" font-weight="bold" text-anchor="start" fill="#000" textLength="190.4" lengthAdjust="spacingAndGlyphs">3: 23478-PECDF</text>
<text x="1299.7" y="1726.8" font-size="19.6" font-weight="normal" text-anchor="start" fill="#000" stroke="#000" stroke-width="0.3">min</text>
<text x="1067.8" y="1415.3" font-size="24" font-weight="normal" text-anchor="middle" fill="#000" stroke="#000" stroke-width="0.35">2</text>
<text x="1173.8" y="1470" font-size="24" font-weight="normal" text-anchor="middle" fill="#000" stroke="#000" stroke-width="0.35">3</text>
<rect x="0" y="1945" width="1448" height="103" fill="#ad1220"/>
<text x="1011.2" y="2007.8" font-size="29.1" font-weight="bold" text-anchor="start" fill="#fff" textLength="334.19" lengthAdjust="spacingAndGlyphs">www.trajanscimed.com</text>
<rect x="1" y="1" width="1446" height="2046" fill="none" stroke="#000" stroke-width="2"/></svg>
</body></html>
